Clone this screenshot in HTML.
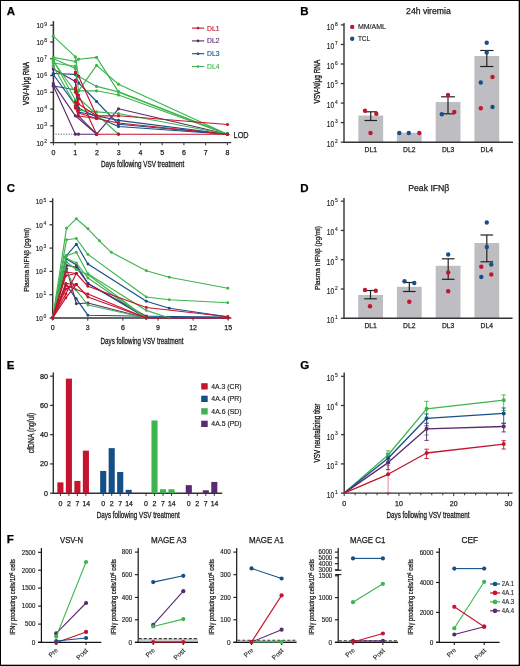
<!DOCTYPE html>
<html><head><meta charset="utf-8"><style>
html,body{margin:0;padding:0;background:#fff;}
svg{display:block;font-family:"Liberation Sans", sans-serif;will-change:transform;}
</style></head><body>
<svg width="520" height="666" viewBox="0 0 520 666">
<rect x="0" y="0" width="520" height="666" fill="#fff"/>
<text x="6.8" y="14.7" font-size="11.5" fill="#000" stroke="#000" stroke-width="0.25" font-weight="bold">A</text>
<line x1="53.4" y1="21.1" x2="53.4" y2="142.6" stroke="#333333" stroke-width="1.5" />
<line x1="52.9" y1="142.6" x2="231.2" y2="142.6" stroke="#333333" stroke-width="1.4" />
<line x1="50.2" y1="142.6" x2="53.4" y2="142.6" stroke="#333333" stroke-width="1.25" />
<text x="47" y="142.9" font-size="5.4" text-anchor="end" textLength="2.8" lengthAdjust="spacingAndGlyphs" fill="#1a1a1a" stroke="#1a1a1a" stroke-width="0.12">2</text>
<text x="43.4" y="145.5" font-size="7.6" text-anchor="end" textLength="7" lengthAdjust="spacingAndGlyphs" fill="#1a1a1a" stroke="#1a1a1a" stroke-width="0.18">10</text>
<line x1="50.2" y1="125.83" x2="53.4" y2="125.83" stroke="#333333" stroke-width="1.25" />
<text x="47" y="126.13" font-size="5.4" text-anchor="end" textLength="2.8" lengthAdjust="spacingAndGlyphs" fill="#1a1a1a" stroke="#1a1a1a" stroke-width="0.12">3</text>
<text x="43.4" y="128.73" font-size="7.6" text-anchor="end" textLength="7" lengthAdjust="spacingAndGlyphs" fill="#1a1a1a" stroke="#1a1a1a" stroke-width="0.18">10</text>
<line x1="50.2" y1="109.06" x2="53.4" y2="109.06" stroke="#333333" stroke-width="1.25" />
<text x="47" y="109.36" font-size="5.4" text-anchor="end" textLength="2.8" lengthAdjust="spacingAndGlyphs" fill="#1a1a1a" stroke="#1a1a1a" stroke-width="0.12">4</text>
<text x="43.4" y="111.96" font-size="7.6" text-anchor="end" textLength="7" lengthAdjust="spacingAndGlyphs" fill="#1a1a1a" stroke="#1a1a1a" stroke-width="0.18">10</text>
<line x1="50.2" y1="92.29" x2="53.4" y2="92.29" stroke="#333333" stroke-width="1.25" />
<text x="47" y="92.59" font-size="5.4" text-anchor="end" textLength="2.8" lengthAdjust="spacingAndGlyphs" fill="#1a1a1a" stroke="#1a1a1a" stroke-width="0.12">5</text>
<text x="43.4" y="95.19" font-size="7.6" text-anchor="end" textLength="7" lengthAdjust="spacingAndGlyphs" fill="#1a1a1a" stroke="#1a1a1a" stroke-width="0.18">10</text>
<line x1="50.2" y1="75.52" x2="53.4" y2="75.52" stroke="#333333" stroke-width="1.25" />
<text x="47" y="75.82" font-size="5.4" text-anchor="end" textLength="2.8" lengthAdjust="spacingAndGlyphs" fill="#1a1a1a" stroke="#1a1a1a" stroke-width="0.12">6</text>
<text x="43.4" y="78.42" font-size="7.6" text-anchor="end" textLength="7" lengthAdjust="spacingAndGlyphs" fill="#1a1a1a" stroke="#1a1a1a" stroke-width="0.18">10</text>
<line x1="50.2" y1="58.75" x2="53.4" y2="58.75" stroke="#333333" stroke-width="1.25" />
<text x="47" y="59.05" font-size="5.4" text-anchor="end" textLength="2.8" lengthAdjust="spacingAndGlyphs" fill="#1a1a1a" stroke="#1a1a1a" stroke-width="0.12">7</text>
<text x="43.4" y="61.65" font-size="7.6" text-anchor="end" textLength="7" lengthAdjust="spacingAndGlyphs" fill="#1a1a1a" stroke="#1a1a1a" stroke-width="0.18">10</text>
<line x1="50.2" y1="41.98" x2="53.4" y2="41.98" stroke="#333333" stroke-width="1.25" />
<text x="47" y="42.28" font-size="5.4" text-anchor="end" textLength="2.8" lengthAdjust="spacingAndGlyphs" fill="#1a1a1a" stroke="#1a1a1a" stroke-width="0.12">8</text>
<text x="43.4" y="44.88" font-size="7.6" text-anchor="end" textLength="7" lengthAdjust="spacingAndGlyphs" fill="#1a1a1a" stroke="#1a1a1a" stroke-width="0.18">10</text>
<line x1="50.2" y1="25.21" x2="53.4" y2="25.21" stroke="#333333" stroke-width="1.25" />
<text x="47" y="25.51" font-size="5.4" text-anchor="end" textLength="2.8" lengthAdjust="spacingAndGlyphs" fill="#1a1a1a" stroke="#1a1a1a" stroke-width="0.12">9</text>
<text x="43.4" y="28.11" font-size="7.6" text-anchor="end" textLength="7" lengthAdjust="spacingAndGlyphs" fill="#1a1a1a" stroke="#1a1a1a" stroke-width="0.18">10</text>
<line x1="53.4" y1="142.6" x2="53.4" y2="145.3" stroke="#333333" stroke-width="1" />
<text x="53.4" y="154.7" font-size="7.2" text-anchor="middle" textLength="3.9" lengthAdjust="spacingAndGlyphs" fill="#1a1a1a" stroke="#1a1a1a" stroke-width="0.25">0</text>
<line x1="75.15" y1="142.6" x2="75.15" y2="145.3" stroke="#333333" stroke-width="1" />
<text x="75.15" y="154.7" font-size="7.2" text-anchor="middle" textLength="3.9" lengthAdjust="spacingAndGlyphs" fill="#1a1a1a" stroke="#1a1a1a" stroke-width="0.25">1</text>
<line x1="96.9" y1="142.6" x2="96.9" y2="145.3" stroke="#333333" stroke-width="1" />
<text x="96.9" y="154.7" font-size="7.2" text-anchor="middle" textLength="3.9" lengthAdjust="spacingAndGlyphs" fill="#1a1a1a" stroke="#1a1a1a" stroke-width="0.25">2</text>
<line x1="118.65" y1="142.6" x2="118.65" y2="145.3" stroke="#333333" stroke-width="1" />
<text x="118.65" y="154.7" font-size="7.2" text-anchor="middle" textLength="3.9" lengthAdjust="spacingAndGlyphs" fill="#1a1a1a" stroke="#1a1a1a" stroke-width="0.25">3</text>
<line x1="140.4" y1="142.6" x2="140.4" y2="145.3" stroke="#333333" stroke-width="1" />
<text x="140.4" y="154.7" font-size="7.2" text-anchor="middle" textLength="3.9" lengthAdjust="spacingAndGlyphs" fill="#1a1a1a" stroke="#1a1a1a" stroke-width="0.25">4</text>
<line x1="162.15" y1="142.6" x2="162.15" y2="145.3" stroke="#333333" stroke-width="1" />
<text x="162.15" y="154.7" font-size="7.2" text-anchor="middle" textLength="3.9" lengthAdjust="spacingAndGlyphs" fill="#1a1a1a" stroke="#1a1a1a" stroke-width="0.25">5</text>
<line x1="183.9" y1="142.6" x2="183.9" y2="145.3" stroke="#333333" stroke-width="1" />
<text x="183.9" y="154.7" font-size="7.2" text-anchor="middle" textLength="3.9" lengthAdjust="spacingAndGlyphs" fill="#1a1a1a" stroke="#1a1a1a" stroke-width="0.25">6</text>
<line x1="205.65" y1="142.6" x2="205.65" y2="145.3" stroke="#333333" stroke-width="1" />
<text x="205.65" y="154.7" font-size="7.2" text-anchor="middle" textLength="3.9" lengthAdjust="spacingAndGlyphs" fill="#1a1a1a" stroke="#1a1a1a" stroke-width="0.25">7</text>
<line x1="227.4" y1="142.6" x2="227.4" y2="145.3" stroke="#333333" stroke-width="1" />
<text x="227.4" y="154.7" font-size="7.2" text-anchor="middle" textLength="3.9" lengthAdjust="spacingAndGlyphs" fill="#1a1a1a" stroke="#1a1a1a" stroke-width="0.25">8</text>
<text x="100.9" y="167.4" font-size="9" textLength="83.3" lengthAdjust="spacingAndGlyphs" fill="#1a1a1a" stroke="#1a1a1a" stroke-width="0.3">Days following VSV treatment</text>
<text x="29.2" y="83.4" font-size="8.6" text-anchor="middle" textLength="43" lengthAdjust="spacingAndGlyphs" fill="#1a1a1a" stroke="#1a1a1a" stroke-width="0.35" transform="rotate(-90 29.2 83.4)">VSV-N/μg RNA</text>
<line x1="55.5" y1="134.2" x2="76" y2="134.2" stroke="#333" stroke-width="0.8" stroke-dasharray="1.2,1.4"/>
<text x="233.6" y="138.2" font-size="8.6" textLength="15" lengthAdjust="spacingAndGlyphs" fill="#1a1a1a" stroke="#1a1a1a" stroke-width="0.25">LOD</text>
<line x1="192" y1="28.1" x2="204.2" y2="28.1" stroke="#c4142e" stroke-width="1.1" />
<circle cx="198" cy="28.1" r="1.3" fill="#c4142e"/>
<text x="207" y="30.6" font-size="7.4" textLength="12.4" lengthAdjust="spacingAndGlyphs" fill="#c4142e" stroke="#c4142e" stroke-width="0.15">DL1</text>
<line x1="192" y1="40.9" x2="204.2" y2="40.9" stroke="#5a2a70" stroke-width="1.1" />
<circle cx="198" cy="40.9" r="1.3" fill="#5a2a70"/>
<text x="207" y="43.4" font-size="7.4" textLength="12.4" lengthAdjust="spacingAndGlyphs" fill="#5a2a70" stroke="#5a2a70" stroke-width="0.15">DL2</text>
<line x1="192" y1="53.7" x2="204.2" y2="53.7" stroke="#164f86" stroke-width="1.1" />
<circle cx="198" cy="53.7" r="1.3" fill="#164f86"/>
<text x="207" y="56.2" font-size="7.4" textLength="12.4" lengthAdjust="spacingAndGlyphs" fill="#164f86" stroke="#164f86" stroke-width="0.15">DL3</text>
<line x1="192" y1="66.5" x2="204.2" y2="66.5" stroke="#3db54e" stroke-width="1.1" />
<circle cx="198" cy="66.5" r="1.3" fill="#3db54e"/>
<text x="207" y="69" font-size="7.4" textLength="12.4" lengthAdjust="spacingAndGlyphs" fill="#3db54e" stroke="#3db54e" stroke-width="0.15">DL4</text>
<polyline points="53.3,73.5 75.4,74.4 78.8,83.1 96.6,101.5 118.5,124.2 227.5,134.2" fill="none" stroke="#164f86" stroke-width="1.15" stroke-linejoin="round" />
<circle cx="53.3" cy="73.5" r="1.6" fill="#164f86"/>
<circle cx="75.4" cy="74.4" r="1.6" fill="#164f86"/>
<circle cx="78.8" cy="83.1" r="1.6" fill="#164f86"/>
<circle cx="96.6" cy="101.5" r="1.6" fill="#164f86"/>
<circle cx="118.5" cy="124.2" r="1.6" fill="#164f86"/>
<circle cx="227.5" cy="134.2" r="1.6" fill="#164f86"/>
<polyline points="53.3,74.5 75.4,105 78.5,112 118.5,120.4 227.5,134.2" fill="none" stroke="#164f86" stroke-width="1.15" stroke-linejoin="round" />
<circle cx="53.3" cy="74.5" r="1.6" fill="#164f86"/>
<circle cx="75.4" cy="105" r="1.6" fill="#164f86"/>
<circle cx="78.5" cy="112" r="1.6" fill="#164f86"/>
<circle cx="118.5" cy="120.4" r="1.6" fill="#164f86"/>
<circle cx="227.5" cy="134.2" r="1.6" fill="#164f86"/>
<polyline points="53.3,86 75.4,89.8 78.5,108 96.6,117 118.5,126.5 227.5,134.2" fill="none" stroke="#164f86" stroke-width="1.15" stroke-linejoin="round" />
<circle cx="53.3" cy="86" r="1.6" fill="#164f86"/>
<circle cx="75.4" cy="89.8" r="1.6" fill="#164f86"/>
<circle cx="78.5" cy="108" r="1.6" fill="#164f86"/>
<circle cx="96.6" cy="117" r="1.6" fill="#164f86"/>
<circle cx="118.5" cy="126.5" r="1.6" fill="#164f86"/>
<circle cx="227.5" cy="134.2" r="1.6" fill="#164f86"/>
<polyline points="53.3,83.6 75.4,115.8 96.6,134.2 118.5,108.8 227.5,134.2" fill="none" stroke="#5a2a70" stroke-width="1.15" stroke-linejoin="round" />
<circle cx="53.3" cy="83.6" r="1.6" fill="#5a2a70"/>
<circle cx="75.4" cy="115.8" r="1.6" fill="#5a2a70"/>
<circle cx="96.6" cy="134.2" r="1.6" fill="#5a2a70"/>
<circle cx="118.5" cy="108.8" r="1.6" fill="#5a2a70"/>
<circle cx="227.5" cy="134.2" r="1.6" fill="#5a2a70"/>
<polyline points="53.3,85.8 75.4,134.2 78.5,134.2 96.6,134.2" fill="none" stroke="#5a2a70" stroke-width="1.15" stroke-linejoin="round" />
<circle cx="53.3" cy="85.8" r="1.6" fill="#5a2a70"/>
<circle cx="75.4" cy="134.2" r="1.6" fill="#5a2a70"/>
<circle cx="78.5" cy="134.2" r="1.6" fill="#5a2a70"/>
<circle cx="96.6" cy="134.2" r="1.6" fill="#5a2a70"/>
<polyline points="53.3,69.1 75.4,81.6 78.5,115.8 96.6,134.2" fill="none" stroke="#5a2a70" stroke-width="1.15" stroke-linejoin="round" />
<circle cx="53.3" cy="69.1" r="1.6" fill="#5a2a70"/>
<circle cx="75.4" cy="81.6" r="1.6" fill="#5a2a70"/>
<circle cx="78.5" cy="115.8" r="1.6" fill="#5a2a70"/>
<circle cx="96.6" cy="134.2" r="1.6" fill="#5a2a70"/>
<polyline points="53.3,36.2 75.4,56.9 78.5,76.3 96.6,86.4 118.5,91.9 227.5,134.2" fill="none" stroke="#3db54e" stroke-width="1.15" stroke-linejoin="round" />
<circle cx="53.3" cy="36.2" r="1.6" fill="#3db54e"/>
<circle cx="75.4" cy="56.9" r="1.6" fill="#3db54e"/>
<circle cx="78.5" cy="76.3" r="1.6" fill="#3db54e"/>
<circle cx="96.6" cy="86.4" r="1.6" fill="#3db54e"/>
<circle cx="118.5" cy="91.9" r="1.6" fill="#3db54e"/>
<circle cx="227.5" cy="134.2" r="1.6" fill="#3db54e"/>
<polyline points="53.3,57.4 75.4,61.5 78.5,59.2 96.6,57.4 118.5,91.9 227.5,134.2" fill="none" stroke="#3db54e" stroke-width="1.15" stroke-linejoin="round" />
<circle cx="53.3" cy="57.4" r="1.6" fill="#3db54e"/>
<circle cx="75.4" cy="61.5" r="1.6" fill="#3db54e"/>
<circle cx="78.5" cy="59.2" r="1.6" fill="#3db54e"/>
<circle cx="96.6" cy="57.4" r="1.6" fill="#3db54e"/>
<circle cx="118.5" cy="91.9" r="1.6" fill="#3db54e"/>
<circle cx="227.5" cy="134.2" r="1.6" fill="#3db54e"/>
<polyline points="53.3,63 75.4,66.2 78.5,90.8 96.6,65.4 118.5,84.2 227.5,134.2" fill="none" stroke="#3db54e" stroke-width="1.15" stroke-linejoin="round" />
<circle cx="53.3" cy="63" r="1.6" fill="#3db54e"/>
<circle cx="75.4" cy="66.2" r="1.6" fill="#3db54e"/>
<circle cx="78.5" cy="90.8" r="1.6" fill="#3db54e"/>
<circle cx="96.6" cy="65.4" r="1.6" fill="#3db54e"/>
<circle cx="118.5" cy="84.2" r="1.6" fill="#3db54e"/>
<circle cx="227.5" cy="134.2" r="1.6" fill="#3db54e"/>
<polyline points="53.3,61.5 75.4,92 78.5,90.8 96.6,90.8 118.5,95 227.5,134.2" fill="none" stroke="#3db54e" stroke-width="1.15" stroke-linejoin="round" />
<circle cx="53.3" cy="61.5" r="1.6" fill="#3db54e"/>
<circle cx="75.4" cy="92" r="1.6" fill="#3db54e"/>
<circle cx="78.5" cy="90.8" r="1.6" fill="#3db54e"/>
<circle cx="96.6" cy="90.8" r="1.6" fill="#3db54e"/>
<circle cx="118.5" cy="95" r="1.6" fill="#3db54e"/>
<circle cx="227.5" cy="134.2" r="1.6" fill="#3db54e"/>
<polyline points="53.3,66.2 75.4,105 78.5,110.4 96.6,111.9 118.5,113.5 227.5,134.2" fill="none" stroke="#3db54e" stroke-width="1.15" stroke-linejoin="round" />
<circle cx="53.3" cy="66.2" r="1.6" fill="#3db54e"/>
<circle cx="75.4" cy="105" r="1.6" fill="#3db54e"/>
<circle cx="78.5" cy="110.4" r="1.6" fill="#3db54e"/>
<circle cx="96.6" cy="111.9" r="1.6" fill="#3db54e"/>
<circle cx="118.5" cy="113.5" r="1.6" fill="#3db54e"/>
<circle cx="227.5" cy="134.2" r="1.6" fill="#3db54e"/>
<polyline points="53.3,60 75.4,100 78.5,98 118.5,134.2" fill="none" stroke="#3db54e" stroke-width="1.15" stroke-linejoin="round" />
<circle cx="53.3" cy="60" r="1.6" fill="#3db54e"/>
<circle cx="75.4" cy="100" r="1.6" fill="#3db54e"/>
<circle cx="78.5" cy="98" r="1.6" fill="#3db54e"/>
<circle cx="118.5" cy="134.2" r="1.6" fill="#3db54e"/>
<polyline points="53.3,58.5 75.4,68.5" fill="none" stroke="#3db54e" stroke-width="1.15" stroke-linejoin="round" />
<circle cx="53.3" cy="58.5" r="1.6" fill="#3db54e"/>
<circle cx="75.4" cy="68.5" r="1.6" fill="#3db54e"/>
<polyline points="75.4,72 78.5,76 96.6,115.8 118.5,115.8 227.5,124.5" fill="none" stroke="#c4142e" stroke-width="1.15" stroke-linejoin="round" />
<circle cx="75.4" cy="72" r="1.6" fill="#c4142e"/>
<circle cx="78.5" cy="76" r="1.6" fill="#c4142e"/>
<circle cx="96.6" cy="115.8" r="1.6" fill="#c4142e"/>
<circle cx="118.5" cy="115.8" r="1.6" fill="#c4142e"/>
<circle cx="227.5" cy="124.5" r="1.6" fill="#c4142e"/>
<polyline points="75.4,88 78.5,95 96.6,134.2 118.5,134.2 227.5,134.2" fill="none" stroke="#c4142e" stroke-width="1.15" stroke-linejoin="round" />
<circle cx="75.4" cy="88" r="1.6" fill="#c4142e"/>
<circle cx="78.5" cy="95" r="1.6" fill="#c4142e"/>
<circle cx="96.6" cy="134.2" r="1.6" fill="#c4142e"/>
<circle cx="118.5" cy="134.2" r="1.6" fill="#c4142e"/>
<circle cx="227.5" cy="134.2" r="1.6" fill="#c4142e"/>
<polyline points="75.4,102 78.5,113 96.6,118.5 118.5,123 227.5,134.2" fill="none" stroke="#c4142e" stroke-width="1.15" stroke-linejoin="round" />
<circle cx="75.4" cy="102" r="1.6" fill="#c4142e"/>
<circle cx="78.5" cy="113" r="1.6" fill="#c4142e"/>
<circle cx="96.6" cy="118.5" r="1.6" fill="#c4142e"/>
<circle cx="118.5" cy="123" r="1.6" fill="#c4142e"/>
<circle cx="227.5" cy="134.2" r="1.6" fill="#c4142e"/>
<polyline points="75.4,108 78.5,116 96.6,118.5" fill="none" stroke="#c4142e" stroke-width="1.15" stroke-linejoin="round" />
<circle cx="75.4" cy="108" r="1.6" fill="#c4142e"/>
<circle cx="78.5" cy="116" r="1.6" fill="#c4142e"/>
<circle cx="96.6" cy="118.5" r="1.6" fill="#c4142e"/>
<polyline points="75.4,80 78.5,104 96.6,115.8" fill="none" stroke="#c4142e" stroke-width="1.15" stroke-linejoin="round" />
<circle cx="75.4" cy="80" r="1.6" fill="#c4142e"/>
<circle cx="78.5" cy="104" r="1.6" fill="#c4142e"/>
<circle cx="96.6" cy="115.8" r="1.6" fill="#c4142e"/>
<polyline points="75.4,92 78.5,99 75.4,106 78.5,110" fill="none" stroke="#c4142e" stroke-width="1.15" stroke-linejoin="round" />
<circle cx="75.4" cy="92" r="1.6" fill="#c4142e"/>
<circle cx="78.5" cy="99" r="1.6" fill="#c4142e"/>
<circle cx="75.4" cy="106" r="1.6" fill="#c4142e"/>
<circle cx="78.5" cy="110" r="1.6" fill="#c4142e"/>
<text x="300.2" y="15.2" font-size="11.5" fill="#000" stroke="#000" stroke-width="0.25" font-weight="bold">B</text>
<text x="406.1" y="14.3" font-size="8.6" textLength="44.6" lengthAdjust="spacingAndGlyphs" fill="#1a1a1a" stroke="#1a1a1a" stroke-width="0.25">24h viremia</text>
<rect x="358.35" y="115.5" width="24.8" height="26.7" fill="#bebdc2"/>
<rect x="396.9" y="132.7" width="24.8" height="9.5" fill="#bebdc2"/>
<rect x="435.7" y="102" width="24.8" height="40.2" fill="#bebdc2"/>
<rect x="474.4" y="56" width="24.8" height="86.2" fill="#bebdc2"/>
<line x1="344" y1="23" x2="344" y2="142.7" stroke="#333333" stroke-width="1.4" />
<line x1="343.5" y1="142.2" x2="513" y2="142.2" stroke="#333333" stroke-width="1.4" />
<line x1="340.8" y1="142.2" x2="344" y2="142.2" stroke="#333333" stroke-width="1.25" />
<text x="337.6" y="142.8" font-size="5" text-anchor="end" textLength="2.7" lengthAdjust="spacingAndGlyphs" fill="#1a1a1a" stroke="#1a1a1a" stroke-width="0.12">2</text>
<text x="334.2" y="147" font-size="8.3" text-anchor="end" textLength="7.4" lengthAdjust="spacingAndGlyphs" fill="#1a1a1a" stroke="#1a1a1a" stroke-width="0.15">10</text>
<line x1="340.8" y1="122.65" x2="344" y2="122.65" stroke="#333333" stroke-width="1.25" />
<text x="337.6" y="123.25" font-size="5" text-anchor="end" textLength="2.7" lengthAdjust="spacingAndGlyphs" fill="#1a1a1a" stroke="#1a1a1a" stroke-width="0.12">3</text>
<text x="334.2" y="127.45" font-size="8.3" text-anchor="end" textLength="7.4" lengthAdjust="spacingAndGlyphs" fill="#1a1a1a" stroke="#1a1a1a" stroke-width="0.15">10</text>
<line x1="340.8" y1="103.1" x2="344" y2="103.1" stroke="#333333" stroke-width="1.25" />
<text x="337.6" y="103.7" font-size="5" text-anchor="end" textLength="2.7" lengthAdjust="spacingAndGlyphs" fill="#1a1a1a" stroke="#1a1a1a" stroke-width="0.12">4</text>
<text x="334.2" y="107.9" font-size="8.3" text-anchor="end" textLength="7.4" lengthAdjust="spacingAndGlyphs" fill="#1a1a1a" stroke="#1a1a1a" stroke-width="0.15">10</text>
<line x1="340.8" y1="83.55" x2="344" y2="83.55" stroke="#333333" stroke-width="1.25" />
<text x="337.6" y="84.15" font-size="5" text-anchor="end" textLength="2.7" lengthAdjust="spacingAndGlyphs" fill="#1a1a1a" stroke="#1a1a1a" stroke-width="0.12">5</text>
<text x="334.2" y="88.35" font-size="8.3" text-anchor="end" textLength="7.4" lengthAdjust="spacingAndGlyphs" fill="#1a1a1a" stroke="#1a1a1a" stroke-width="0.15">10</text>
<line x1="340.8" y1="64" x2="344" y2="64" stroke="#333333" stroke-width="1.25" />
<text x="337.6" y="64.6" font-size="5" text-anchor="end" textLength="2.7" lengthAdjust="spacingAndGlyphs" fill="#1a1a1a" stroke="#1a1a1a" stroke-width="0.12">6</text>
<text x="334.2" y="68.8" font-size="8.3" text-anchor="end" textLength="7.4" lengthAdjust="spacingAndGlyphs" fill="#1a1a1a" stroke="#1a1a1a" stroke-width="0.15">10</text>
<line x1="340.8" y1="44.45" x2="344" y2="44.45" stroke="#333333" stroke-width="1.25" />
<text x="337.6" y="45.05" font-size="5" text-anchor="end" textLength="2.7" lengthAdjust="spacingAndGlyphs" fill="#1a1a1a" stroke="#1a1a1a" stroke-width="0.12">7</text>
<text x="334.2" y="49.25" font-size="8.3" text-anchor="end" textLength="7.4" lengthAdjust="spacingAndGlyphs" fill="#1a1a1a" stroke="#1a1a1a" stroke-width="0.15">10</text>
<line x1="340.8" y1="24.9" x2="344" y2="24.9" stroke="#333333" stroke-width="1.25" />
<text x="337.6" y="25.5" font-size="5" text-anchor="end" textLength="2.7" lengthAdjust="spacingAndGlyphs" fill="#1a1a1a" stroke="#1a1a1a" stroke-width="0.12">8</text>
<text x="334.2" y="29.7" font-size="8.3" text-anchor="end" textLength="7.4" lengthAdjust="spacingAndGlyphs" fill="#1a1a1a" stroke="#1a1a1a" stroke-width="0.15">10</text>
<text x="370.75" y="151.6" font-size="8" text-anchor="middle" textLength="12.4" lengthAdjust="spacingAndGlyphs" fill="#1a1a1a" stroke="#1a1a1a" stroke-width="0.25">DL1</text>
<text x="409.3" y="151.6" font-size="8" text-anchor="middle" textLength="12.4" lengthAdjust="spacingAndGlyphs" fill="#1a1a1a" stroke="#1a1a1a" stroke-width="0.25">DL2</text>
<text x="448.1" y="151.6" font-size="8" text-anchor="middle" textLength="12.4" lengthAdjust="spacingAndGlyphs" fill="#1a1a1a" stroke="#1a1a1a" stroke-width="0.25">DL3</text>
<text x="486.8" y="151.6" font-size="8" text-anchor="middle" textLength="12.4" lengthAdjust="spacingAndGlyphs" fill="#1a1a1a" stroke="#1a1a1a" stroke-width="0.25">DL4</text>
<text x="319.8" y="81.6" font-size="8.6" text-anchor="middle" textLength="43.6" lengthAdjust="spacingAndGlyphs" fill="#1a1a1a" stroke="#1a1a1a" stroke-width="0.35" transform="rotate(-90 319.8 81.6)">VSV-N/μg RNA</text>
<line x1="370.75" y1="111.8" x2="370.75" y2="120.5" stroke="#222" stroke-width="1.2" />
<line x1="364.45" y1="111.8" x2="377.05" y2="111.8" stroke="#222" stroke-width="1.2" />
<line x1="364.45" y1="120.5" x2="377.05" y2="120.5" stroke="#222" stroke-width="1.2" />
<line x1="448" y1="96.8" x2="448" y2="113.8" stroke="#222" stroke-width="1.2" />
<line x1="441.1" y1="96.8" x2="454.9" y2="96.8" stroke="#222" stroke-width="1.2" />
<line x1="441.1" y1="113.8" x2="454.9" y2="113.8" stroke="#222" stroke-width="1.2" />
<line x1="486.8" y1="50.5" x2="486.8" y2="66.5" stroke="#222" stroke-width="1.2" />
<line x1="480.2" y1="50.5" x2="493.4" y2="50.5" stroke="#222" stroke-width="1.2" />
<line x1="480.2" y1="66.5" x2="493.4" y2="66.5" stroke="#222" stroke-width="1.2" />
<circle cx="365" cy="110.8" r="2.2" fill="#c4142e"/>
<circle cx="376.3" cy="113.8" r="2.2" fill="#c4142e"/>
<circle cx="370.5" cy="133" r="2.2" fill="#c4142e"/>
<circle cx="399.3" cy="133" r="2.2" fill="#164f86"/>
<circle cx="408.8" cy="133" r="2.2" fill="#164f86"/>
<circle cx="419.3" cy="133" r="2.2" fill="#c4142e"/>
<circle cx="448" cy="95" r="2.2" fill="#c4142e"/>
<circle cx="441.8" cy="114.3" r="2.2" fill="#164f86"/>
<circle cx="454.3" cy="112" r="2.2" fill="#c4142e"/>
<circle cx="486.7" cy="42.7" r="2.2" fill="#164f86"/>
<circle cx="486.7" cy="52.5" r="2.2" fill="#164f86"/>
<circle cx="492.5" cy="77" r="2.2" fill="#c4142e"/>
<circle cx="480.8" cy="82.5" r="2.2" fill="#164f86"/>
<circle cx="480.8" cy="108.3" r="2.2" fill="#c4142e"/>
<circle cx="492.5" cy="107" r="2.2" fill="#164f86"/>
<circle cx="352.2" cy="26.9" r="2.2" fill="#c4142e"/>
<circle cx="352.2" cy="38.8" r="2.2" fill="#164f86"/>
<text x="357.9" y="29.4" font-size="7.6" textLength="28" lengthAdjust="spacingAndGlyphs" fill="#1a1a1a" stroke="#1a1a1a" stroke-width="0.15">MM/AML</text>
<text x="357.9" y="40.6" font-size="7.6" textLength="12.2" lengthAdjust="spacingAndGlyphs" fill="#1a1a1a" stroke="#1a1a1a" stroke-width="0.15">TCL</text>
<text x="6.8" y="191.5" font-size="11.5" fill="#000" stroke="#000" stroke-width="0.25" font-weight="bold">C</text>
<line x1="52.7" y1="198.3" x2="52.7" y2="318.5" stroke="#333333" stroke-width="1.4" />
<line x1="52.2" y1="318" x2="231.3" y2="318" stroke="#333333" stroke-width="1.4" />
<line x1="49.5" y1="318" x2="52.7" y2="318" stroke="#333333" stroke-width="1.25" />
<text x="46.4" y="318.3" font-size="5.4" text-anchor="end" textLength="2.8" lengthAdjust="spacingAndGlyphs" fill="#1a1a1a" stroke="#1a1a1a" stroke-width="0.12">0</text>
<text x="42.8" y="320.9" font-size="7.6" text-anchor="end" textLength="7" lengthAdjust="spacingAndGlyphs" fill="#1a1a1a" stroke="#1a1a1a" stroke-width="0.18">10</text>
<line x1="49.5" y1="294.7" x2="52.7" y2="294.7" stroke="#333333" stroke-width="1.25" />
<text x="46.4" y="295" font-size="5.4" text-anchor="end" textLength="2.8" lengthAdjust="spacingAndGlyphs" fill="#1a1a1a" stroke="#1a1a1a" stroke-width="0.12">1</text>
<text x="42.8" y="297.6" font-size="7.6" text-anchor="end" textLength="7" lengthAdjust="spacingAndGlyphs" fill="#1a1a1a" stroke="#1a1a1a" stroke-width="0.18">10</text>
<line x1="49.5" y1="271.4" x2="52.7" y2="271.4" stroke="#333333" stroke-width="1.25" />
<text x="46.4" y="271.7" font-size="5.4" text-anchor="end" textLength="2.8" lengthAdjust="spacingAndGlyphs" fill="#1a1a1a" stroke="#1a1a1a" stroke-width="0.12">2</text>
<text x="42.8" y="274.3" font-size="7.6" text-anchor="end" textLength="7" lengthAdjust="spacingAndGlyphs" fill="#1a1a1a" stroke="#1a1a1a" stroke-width="0.18">10</text>
<line x1="49.5" y1="248.1" x2="52.7" y2="248.1" stroke="#333333" stroke-width="1.25" />
<text x="46.4" y="248.4" font-size="5.4" text-anchor="end" textLength="2.8" lengthAdjust="spacingAndGlyphs" fill="#1a1a1a" stroke="#1a1a1a" stroke-width="0.12">3</text>
<text x="42.8" y="251" font-size="7.6" text-anchor="end" textLength="7" lengthAdjust="spacingAndGlyphs" fill="#1a1a1a" stroke="#1a1a1a" stroke-width="0.18">10</text>
<line x1="49.5" y1="224.8" x2="52.7" y2="224.8" stroke="#333333" stroke-width="1.25" />
<text x="46.4" y="225.1" font-size="5.4" text-anchor="end" textLength="2.8" lengthAdjust="spacingAndGlyphs" fill="#1a1a1a" stroke="#1a1a1a" stroke-width="0.12">4</text>
<text x="42.8" y="227.7" font-size="7.6" text-anchor="end" textLength="7" lengthAdjust="spacingAndGlyphs" fill="#1a1a1a" stroke="#1a1a1a" stroke-width="0.18">10</text>
<line x1="49.5" y1="201.5" x2="52.7" y2="201.5" stroke="#333333" stroke-width="1.25" />
<text x="46.4" y="201.8" font-size="5.4" text-anchor="end" textLength="2.8" lengthAdjust="spacingAndGlyphs" fill="#1a1a1a" stroke="#1a1a1a" stroke-width="0.12">5</text>
<text x="42.8" y="204.4" font-size="7.6" text-anchor="end" textLength="7" lengthAdjust="spacingAndGlyphs" fill="#1a1a1a" stroke="#1a1a1a" stroke-width="0.18">10</text>
<line x1="52.7" y1="318" x2="52.7" y2="320.6" stroke="#333333" stroke-width="1" />
<text x="52.7" y="330.4" font-size="7.2" text-anchor="middle" textLength="3.9" lengthAdjust="spacingAndGlyphs" fill="#1a1a1a" stroke="#1a1a1a" stroke-width="0.25">0</text>
<line x1="87.8" y1="318" x2="87.8" y2="320.6" stroke="#333333" stroke-width="1" />
<text x="87.8" y="330.4" font-size="7.2" text-anchor="middle" textLength="3.9" lengthAdjust="spacingAndGlyphs" fill="#1a1a1a" stroke="#1a1a1a" stroke-width="0.25">3</text>
<line x1="122.9" y1="318" x2="122.9" y2="320.6" stroke="#333333" stroke-width="1" />
<text x="122.9" y="330.4" font-size="7.2" text-anchor="middle" textLength="3.9" lengthAdjust="spacingAndGlyphs" fill="#1a1a1a" stroke="#1a1a1a" stroke-width="0.25">6</text>
<line x1="158" y1="318" x2="158" y2="320.6" stroke="#333333" stroke-width="1" />
<text x="158" y="330.4" font-size="7.2" text-anchor="middle" textLength="3.9" lengthAdjust="spacingAndGlyphs" fill="#1a1a1a" stroke="#1a1a1a" stroke-width="0.25">9</text>
<line x1="193.1" y1="318" x2="193.1" y2="320.6" stroke="#333333" stroke-width="1" />
<text x="193.1" y="330.4" font-size="7.2" text-anchor="middle" textLength="7.8" lengthAdjust="spacingAndGlyphs" fill="#1a1a1a" stroke="#1a1a1a" stroke-width="0.25">12</text>
<line x1="228.2" y1="318" x2="228.2" y2="320.6" stroke="#333333" stroke-width="1" />
<text x="228.2" y="330.4" font-size="7.2" text-anchor="middle" textLength="7.8" lengthAdjust="spacingAndGlyphs" fill="#1a1a1a" stroke="#1a1a1a" stroke-width="0.25">15</text>
<text x="100.6" y="343.6" font-size="9" textLength="82.9" lengthAdjust="spacingAndGlyphs" fill="#1a1a1a" stroke="#1a1a1a" stroke-width="0.3">Days following VSV treatment</text>
<text x="29" y="259.8" font-size="8" text-anchor="middle" textLength="64" lengthAdjust="spacingAndGlyphs" fill="#1a1a1a" stroke="#1a1a1a" stroke-width="0.25" transform="rotate(-90 29 259.8)">Plasma hIFNβ (pg/ml)</text>
<polyline points="52.7,318 66.3,255.8 76.4,244.2 87.9,264 146.3,301.3 169.3,308.3 227.8,316.8" fill="none" stroke="#164f86" stroke-width="1.15" stroke-linejoin="round" />
<circle cx="52.7" cy="318" r="1.45" fill="#164f86"/>
<circle cx="66.3" cy="255.8" r="1.45" fill="#164f86"/>
<circle cx="76.4" cy="244.2" r="1.45" fill="#164f86"/>
<circle cx="87.9" cy="264" r="1.45" fill="#164f86"/>
<circle cx="146.3" cy="301.3" r="1.45" fill="#164f86"/>
<circle cx="169.3" cy="308.3" r="1.45" fill="#164f86"/>
<circle cx="227.8" cy="316.8" r="1.45" fill="#164f86"/>
<polyline points="52.7,318 66.3,258.7 76.4,264.9 88,283.5 146.3,318" fill="none" stroke="#164f86" stroke-width="1.15" stroke-linejoin="round" />
<circle cx="52.7" cy="318" r="1.45" fill="#164f86"/>
<circle cx="66.3" cy="258.7" r="1.45" fill="#164f86"/>
<circle cx="76.4" cy="264.9" r="1.45" fill="#164f86"/>
<circle cx="88" cy="283.5" r="1.45" fill="#164f86"/>
<circle cx="146.3" cy="318" r="1.45" fill="#164f86"/>
<polyline points="52.7,318 65.8,284.4 76.3,298.8 87.9,315.2 146.3,316.2 227.8,317" fill="none" stroke="#164f86" stroke-width="1.15" stroke-linejoin="round" />
<circle cx="52.7" cy="318" r="1.45" fill="#164f86"/>
<circle cx="65.8" cy="284.4" r="1.45" fill="#164f86"/>
<circle cx="76.3" cy="298.8" r="1.45" fill="#164f86"/>
<circle cx="87.9" cy="315.2" r="1.45" fill="#164f86"/>
<circle cx="146.3" cy="316.2" r="1.45" fill="#164f86"/>
<circle cx="227.8" cy="317" r="1.45" fill="#164f86"/>
<polyline points="52.7,318 66.8,265.4 76.4,267.3 87.9,283.5 146.3,316.2" fill="none" stroke="#5a2a70" stroke-width="1.15" stroke-linejoin="round" />
<circle cx="52.7" cy="318" r="1.45" fill="#5a2a70"/>
<circle cx="66.8" cy="265.4" r="1.45" fill="#5a2a70"/>
<circle cx="76.4" cy="267.3" r="1.45" fill="#5a2a70"/>
<circle cx="87.9" cy="283.5" r="1.45" fill="#5a2a70"/>
<circle cx="146.3" cy="316.2" r="1.45" fill="#5a2a70"/>
<polyline points="52.7,318 66.7,268.8 76.3,303.7 87.9,303 146.3,318 227.8,318" fill="none" stroke="#5a2a70" stroke-width="1.15" stroke-linejoin="round" />
<circle cx="52.7" cy="318" r="1.45" fill="#5a2a70"/>
<circle cx="66.7" cy="268.8" r="1.45" fill="#5a2a70"/>
<circle cx="76.3" cy="303.7" r="1.45" fill="#5a2a70"/>
<circle cx="87.9" cy="303" r="1.45" fill="#5a2a70"/>
<circle cx="146.3" cy="318" r="1.45" fill="#5a2a70"/>
<circle cx="227.8" cy="318" r="1.45" fill="#5a2a70"/>
<polyline points="52.7,318 66.5,228.3 76.3,218.7 87.9,228.8 99.4,240.8 111.3,252.3 146.3,270.8 169.3,277.3 227.8,288.3" fill="none" stroke="#3db54e" stroke-width="1.15" stroke-linejoin="round" />
<circle cx="52.7" cy="318" r="1.45" fill="#3db54e"/>
<circle cx="66.5" cy="228.3" r="1.45" fill="#3db54e"/>
<circle cx="76.3" cy="218.7" r="1.45" fill="#3db54e"/>
<circle cx="87.9" cy="228.8" r="1.45" fill="#3db54e"/>
<circle cx="99.4" cy="240.8" r="1.45" fill="#3db54e"/>
<circle cx="111.3" cy="252.3" r="1.45" fill="#3db54e"/>
<circle cx="146.3" cy="270.8" r="1.45" fill="#3db54e"/>
<circle cx="169.3" cy="277.3" r="1.45" fill="#3db54e"/>
<circle cx="227.8" cy="288.3" r="1.45" fill="#3db54e"/>
<polyline points="52.7,318 66.5,239.8 76.3,238.5 87.9,254.4 146.3,297 169.3,299.8 227.8,302.8" fill="none" stroke="#3db54e" stroke-width="1.15" stroke-linejoin="round" />
<circle cx="52.7" cy="318" r="1.45" fill="#3db54e"/>
<circle cx="66.5" cy="239.8" r="1.45" fill="#3db54e"/>
<circle cx="76.3" cy="238.5" r="1.45" fill="#3db54e"/>
<circle cx="87.9" cy="254.4" r="1.45" fill="#3db54e"/>
<circle cx="146.3" cy="297" r="1.45" fill="#3db54e"/>
<circle cx="169.3" cy="299.8" r="1.45" fill="#3db54e"/>
<circle cx="227.8" cy="302.8" r="1.45" fill="#3db54e"/>
<polyline points="52.7,318 66.5,255.8 76.3,252.3 87.9,273.8 146.3,310.4 169.3,318" fill="none" stroke="#3db54e" stroke-width="1.15" stroke-linejoin="round" />
<circle cx="52.7" cy="318" r="1.45" fill="#3db54e"/>
<circle cx="66.5" cy="255.8" r="1.45" fill="#3db54e"/>
<circle cx="76.3" cy="252.3" r="1.45" fill="#3db54e"/>
<circle cx="87.9" cy="273.8" r="1.45" fill="#3db54e"/>
<circle cx="146.3" cy="310.4" r="1.45" fill="#3db54e"/>
<circle cx="169.3" cy="318" r="1.45" fill="#3db54e"/>
<polyline points="52.7,318 64.4,257.2 76.4,263 87.9,278 146.3,318" fill="none" stroke="#3db54e" stroke-width="1.15" stroke-linejoin="round" />
<circle cx="52.7" cy="318" r="1.45" fill="#3db54e"/>
<circle cx="64.4" cy="257.2" r="1.45" fill="#3db54e"/>
<circle cx="76.4" cy="263" r="1.45" fill="#3db54e"/>
<circle cx="87.9" cy="278" r="1.45" fill="#3db54e"/>
<circle cx="146.3" cy="318" r="1.45" fill="#3db54e"/>
<polyline points="52.7,318 66.5,262 76.4,269.7 87.9,274.5 146.3,318" fill="none" stroke="#3db54e" stroke-width="1.15" stroke-linejoin="round" />
<circle cx="52.7" cy="318" r="1.45" fill="#3db54e"/>
<circle cx="66.5" cy="262" r="1.45" fill="#3db54e"/>
<circle cx="76.4" cy="269.7" r="1.45" fill="#3db54e"/>
<circle cx="87.9" cy="274.5" r="1.45" fill="#3db54e"/>
<circle cx="146.3" cy="318" r="1.45" fill="#3db54e"/>
<polyline points="52.7,318 66.5,271 75.7,289.7 87.9,305 146.3,318" fill="none" stroke="#3db54e" stroke-width="1.15" stroke-linejoin="round" />
<circle cx="52.7" cy="318" r="1.45" fill="#3db54e"/>
<circle cx="66.5" cy="271" r="1.45" fill="#3db54e"/>
<circle cx="75.7" cy="289.7" r="1.45" fill="#3db54e"/>
<circle cx="87.9" cy="305" r="1.45" fill="#3db54e"/>
<circle cx="146.3" cy="318" r="1.45" fill="#3db54e"/>
<polyline points="52.7,318 65.8,272 76.3,273.5 87.9,286.3 146.3,307.5 227.8,316.8" fill="none" stroke="#c4142e" stroke-width="1.15" stroke-linejoin="round" />
<circle cx="52.7" cy="318" r="1.45" fill="#c4142e"/>
<circle cx="65.8" cy="272" r="1.45" fill="#c4142e"/>
<circle cx="76.3" cy="273.5" r="1.45" fill="#c4142e"/>
<circle cx="87.9" cy="286.3" r="1.45" fill="#c4142e"/>
<circle cx="146.3" cy="307.5" r="1.45" fill="#c4142e"/>
<circle cx="227.8" cy="316.8" r="1.45" fill="#c4142e"/>
<polyline points="52.7,318 65.8,283.5 76.3,284.4 87.9,297 146.3,318 227.8,318" fill="none" stroke="#c4142e" stroke-width="1.15" stroke-linejoin="round" />
<circle cx="52.7" cy="318" r="1.45" fill="#c4142e"/>
<circle cx="65.8" cy="283.5" r="1.45" fill="#c4142e"/>
<circle cx="76.3" cy="284.4" r="1.45" fill="#c4142e"/>
<circle cx="87.9" cy="297" r="1.45" fill="#c4142e"/>
<circle cx="146.3" cy="318" r="1.45" fill="#c4142e"/>
<circle cx="227.8" cy="318" r="1.45" fill="#c4142e"/>
<polyline points="52.7,318 65.8,289.2 76.3,284.4" fill="none" stroke="#c4142e" stroke-width="1.15" stroke-linejoin="round" />
<circle cx="52.7" cy="318" r="1.45" fill="#c4142e"/>
<circle cx="65.8" cy="289.2" r="1.45" fill="#c4142e"/>
<circle cx="76.3" cy="284.4" r="1.45" fill="#c4142e"/>
<polyline points="52.7,318 65.8,294 76.3,273.5" fill="none" stroke="#c4142e" stroke-width="1.15" stroke-linejoin="round" />
<circle cx="52.7" cy="318" r="1.45" fill="#c4142e"/>
<circle cx="65.8" cy="294" r="1.45" fill="#c4142e"/>
<circle cx="76.3" cy="273.5" r="1.45" fill="#c4142e"/>
<polyline points="52.7,318 65.8,297.9 76.3,284.4" fill="none" stroke="#c4142e" stroke-width="1.15" stroke-linejoin="round" />
<circle cx="52.7" cy="318" r="1.45" fill="#c4142e"/>
<circle cx="65.8" cy="297.9" r="1.45" fill="#c4142e"/>
<circle cx="76.3" cy="284.4" r="1.45" fill="#c4142e"/>
<polyline points="52.7,318 65.8,275.8 76.3,273.5" fill="none" stroke="#c4142e" stroke-width="1.15" stroke-linejoin="round" />
<circle cx="52.7" cy="318" r="1.45" fill="#c4142e"/>
<circle cx="65.8" cy="275.8" r="1.45" fill="#c4142e"/>
<circle cx="76.3" cy="273.5" r="1.45" fill="#c4142e"/>
<polyline points="52.7,318 66.2,285.5 87.9,294 146.3,318" fill="none" stroke="#c4142e" stroke-width="1.15" stroke-linejoin="round" />
<circle cx="52.7" cy="318" r="1.45" fill="#c4142e"/>
<circle cx="66.2" cy="285.5" r="1.45" fill="#c4142e"/>
<circle cx="87.9" cy="294" r="1.45" fill="#c4142e"/>
<circle cx="146.3" cy="318" r="1.45" fill="#c4142e"/>
<text x="300.2" y="191.5" font-size="11.5" fill="#000" stroke="#000" stroke-width="0.25" font-weight="bold">D</text>
<text x="408.3" y="190.5" font-size="8.6" textLength="41" lengthAdjust="spacingAndGlyphs" fill="#1a1a1a" stroke="#1a1a1a" stroke-width="0.25">Peak IFNβ</text>
<rect x="358.2" y="295" width="24.8" height="23.3" fill="#bebdc2"/>
<rect x="396.9" y="286.8" width="24.8" height="31.5" fill="#bebdc2"/>
<rect x="435.7" y="265.8" width="24.8" height="52.5" fill="#bebdc2"/>
<rect x="474.4" y="243" width="24.8" height="75.3" fill="#bebdc2"/>
<line x1="344" y1="198" x2="344" y2="318.8" stroke="#333333" stroke-width="1.4" />
<line x1="343.5" y1="318.3" x2="512.6" y2="318.3" stroke="#333333" stroke-width="1.4" />
<line x1="340.8" y1="318.3" x2="344" y2="318.3" stroke="#333333" stroke-width="1.25" />
<text x="337.6" y="318.9" font-size="5" text-anchor="end" textLength="2.7" lengthAdjust="spacingAndGlyphs" fill="#1a1a1a" stroke="#1a1a1a" stroke-width="0.12">1</text>
<text x="334.2" y="323.1" font-size="8.3" text-anchor="end" textLength="7.4" lengthAdjust="spacingAndGlyphs" fill="#1a1a1a" stroke="#1a1a1a" stroke-width="0.15">10</text>
<line x1="340.8" y1="289.02" x2="344" y2="289.02" stroke="#333333" stroke-width="1.25" />
<text x="337.6" y="289.62" font-size="5" text-anchor="end" textLength="2.7" lengthAdjust="spacingAndGlyphs" fill="#1a1a1a" stroke="#1a1a1a" stroke-width="0.12">2</text>
<text x="334.2" y="293.82" font-size="8.3" text-anchor="end" textLength="7.4" lengthAdjust="spacingAndGlyphs" fill="#1a1a1a" stroke="#1a1a1a" stroke-width="0.15">10</text>
<line x1="340.8" y1="259.74" x2="344" y2="259.74" stroke="#333333" stroke-width="1.25" />
<text x="337.6" y="260.34" font-size="5" text-anchor="end" textLength="2.7" lengthAdjust="spacingAndGlyphs" fill="#1a1a1a" stroke="#1a1a1a" stroke-width="0.12">3</text>
<text x="334.2" y="264.54" font-size="8.3" text-anchor="end" textLength="7.4" lengthAdjust="spacingAndGlyphs" fill="#1a1a1a" stroke="#1a1a1a" stroke-width="0.15">10</text>
<line x1="340.8" y1="230.46" x2="344" y2="230.46" stroke="#333333" stroke-width="1.25" />
<text x="337.6" y="231.06" font-size="5" text-anchor="end" textLength="2.7" lengthAdjust="spacingAndGlyphs" fill="#1a1a1a" stroke="#1a1a1a" stroke-width="0.12">4</text>
<text x="334.2" y="235.26" font-size="8.3" text-anchor="end" textLength="7.4" lengthAdjust="spacingAndGlyphs" fill="#1a1a1a" stroke="#1a1a1a" stroke-width="0.15">10</text>
<line x1="340.8" y1="201.18" x2="344" y2="201.18" stroke="#333333" stroke-width="1.25" />
<text x="337.6" y="201.78" font-size="5" text-anchor="end" textLength="2.7" lengthAdjust="spacingAndGlyphs" fill="#1a1a1a" stroke="#1a1a1a" stroke-width="0.12">5</text>
<text x="334.2" y="205.98" font-size="8.3" text-anchor="end" textLength="7.4" lengthAdjust="spacingAndGlyphs" fill="#1a1a1a" stroke="#1a1a1a" stroke-width="0.15">10</text>
<text x="370.6" y="327.8" font-size="8" text-anchor="middle" textLength="12.4" lengthAdjust="spacingAndGlyphs" fill="#1a1a1a" stroke="#1a1a1a" stroke-width="0.25">DL1</text>
<text x="409.3" y="327.8" font-size="8" text-anchor="middle" textLength="12.4" lengthAdjust="spacingAndGlyphs" fill="#1a1a1a" stroke="#1a1a1a" stroke-width="0.25">DL2</text>
<text x="448.1" y="327.8" font-size="8" text-anchor="middle" textLength="12.4" lengthAdjust="spacingAndGlyphs" fill="#1a1a1a" stroke="#1a1a1a" stroke-width="0.25">DL3</text>
<text x="486.8" y="327.8" font-size="8" text-anchor="middle" textLength="12.4" lengthAdjust="spacingAndGlyphs" fill="#1a1a1a" stroke="#1a1a1a" stroke-width="0.25">DL4</text>
<text x="320" y="258" font-size="8" text-anchor="middle" textLength="64" lengthAdjust="spacingAndGlyphs" fill="#1a1a1a" stroke="#1a1a1a" stroke-width="0.25" transform="rotate(-90 320 258)">Plasma hIFNβ (pg/ml)</text>
<line x1="370.5" y1="290.5" x2="370.5" y2="298.8" stroke="#222" stroke-width="1.2" />
<line x1="364.2" y1="290.5" x2="376.8" y2="290.5" stroke="#222" stroke-width="1.2" />
<line x1="364.2" y1="298.8" x2="376.8" y2="298.8" stroke="#222" stroke-width="1.2" />
<line x1="409.3" y1="282.5" x2="409.3" y2="291.5" stroke="#222" stroke-width="1.2" />
<line x1="403" y1="282.5" x2="415.6" y2="282.5" stroke="#222" stroke-width="1.2" />
<line x1="403" y1="291.5" x2="415.6" y2="291.5" stroke="#222" stroke-width="1.2" />
<line x1="448.2" y1="258.8" x2="448.2" y2="279.3" stroke="#222" stroke-width="1.2" />
<line x1="441.9" y1="258.8" x2="454.5" y2="258.8" stroke="#222" stroke-width="1.2" />
<line x1="441.9" y1="279.3" x2="454.5" y2="279.3" stroke="#222" stroke-width="1.2" />
<line x1="486.8" y1="235" x2="486.8" y2="261.8" stroke="#222" stroke-width="1.2" />
<line x1="480.5" y1="235" x2="493.1" y2="235" stroke="#222" stroke-width="1.2" />
<line x1="480.5" y1="261.8" x2="493.1" y2="261.8" stroke="#222" stroke-width="1.2" />
<circle cx="365" cy="290" r="2.2" fill="#c4142e"/>
<circle cx="375.8" cy="290.8" r="2.2" fill="#c4142e"/>
<circle cx="370" cy="306.3" r="2.2" fill="#c4142e"/>
<circle cx="404.5" cy="281.3" r="2.2" fill="#164f86"/>
<circle cx="414.3" cy="283" r="2.2" fill="#164f86"/>
<circle cx="409.3" cy="301.8" r="2.2" fill="#c4142e"/>
<circle cx="448.2" cy="254.5" r="2.2" fill="#164f86"/>
<circle cx="448.2" cy="272.5" r="2.2" fill="#c4142e"/>
<circle cx="448.2" cy="291.3" r="2.2" fill="#c4142e"/>
<circle cx="486.8" cy="222.5" r="2.2" fill="#164f86"/>
<circle cx="486.8" cy="247" r="2.2" fill="#164f86"/>
<circle cx="481.3" cy="266.8" r="2.2" fill="#c4142e"/>
<circle cx="491.3" cy="264.5" r="2.2" fill="#164f86"/>
<circle cx="491.3" cy="274.5" r="2.2" fill="#c4142e"/>
<circle cx="481.3" cy="277" r="2.2" fill="#164f86"/>
<text x="6.8" y="369.2" font-size="11.5" fill="#000" stroke="#000" stroke-width="0.25" font-weight="bold">E</text>
<line x1="53.3" y1="372.5" x2="53.3" y2="493.7" stroke="#333333" stroke-width="1.4" />
<line x1="52.8" y1="493.2" x2="222.2" y2="493.2" stroke="#333333" stroke-width="1.4" />
<line x1="50.1" y1="493.2" x2="53.3" y2="493.2" stroke="#333333" stroke-width="1.25" />
<text x="48" y="495.7" font-size="7.2" text-anchor="end" textLength="3.9" lengthAdjust="spacingAndGlyphs" fill="#1a1a1a" stroke="#1a1a1a" stroke-width="0.25">0</text>
<line x1="50.1" y1="463.94" x2="53.3" y2="463.94" stroke="#333333" stroke-width="1.25" />
<text x="48" y="466.44" font-size="7.2" text-anchor="end" textLength="8" lengthAdjust="spacingAndGlyphs" fill="#1a1a1a" stroke="#1a1a1a" stroke-width="0.25">20</text>
<line x1="50.1" y1="434.68" x2="53.3" y2="434.68" stroke="#333333" stroke-width="1.25" />
<text x="48" y="437.18" font-size="7.2" text-anchor="end" textLength="8" lengthAdjust="spacingAndGlyphs" fill="#1a1a1a" stroke="#1a1a1a" stroke-width="0.25">40</text>
<line x1="50.1" y1="405.42" x2="53.3" y2="405.42" stroke="#333333" stroke-width="1.25" />
<text x="48" y="407.92" font-size="7.2" text-anchor="end" textLength="8" lengthAdjust="spacingAndGlyphs" fill="#1a1a1a" stroke="#1a1a1a" stroke-width="0.25">60</text>
<line x1="50.1" y1="376.16" x2="53.3" y2="376.16" stroke="#333333" stroke-width="1.25" />
<text x="48" y="378.66" font-size="7.2" text-anchor="end" textLength="8" lengthAdjust="spacingAndGlyphs" fill="#1a1a1a" stroke="#1a1a1a" stroke-width="0.25">80</text>
<line x1="60.4" y1="493.2" x2="60.4" y2="495.9" stroke="#333333" stroke-width="1" />
<rect x="57.35" y="482.37" width="6.1" height="10.83" fill="#c4142e"/>
<text x="60.4" y="505.9" font-size="7.2" text-anchor="middle" textLength="3.9" lengthAdjust="spacingAndGlyphs" fill="#1a1a1a" stroke="#1a1a1a" stroke-width="0.25">0</text>
<line x1="68.9" y1="493.2" x2="68.9" y2="495.9" stroke="#333333" stroke-width="1" />
<rect x="65.85" y="378.65" width="6.1" height="114.55" fill="#c4142e"/>
<text x="68.9" y="505.9" font-size="7.2" text-anchor="middle" textLength="3.9" lengthAdjust="spacingAndGlyphs" fill="#1a1a1a" stroke="#1a1a1a" stroke-width="0.25">2</text>
<line x1="77.4" y1="493.2" x2="77.4" y2="495.9" stroke="#333333" stroke-width="1" />
<rect x="74.35" y="480.91" width="6.1" height="12.29" fill="#c4142e"/>
<text x="77.4" y="505.9" font-size="7.2" text-anchor="middle" textLength="3.9" lengthAdjust="spacingAndGlyphs" fill="#1a1a1a" stroke="#1a1a1a" stroke-width="0.25">7</text>
<line x1="85.9" y1="493.2" x2="85.9" y2="495.9" stroke="#333333" stroke-width="1" />
<rect x="82.85" y="450.63" width="6.1" height="42.57" fill="#c4142e"/>
<text x="86.2" y="505.9" font-size="7.2" text-anchor="middle" textLength="7.6" lengthAdjust="spacingAndGlyphs" fill="#1a1a1a" stroke="#1a1a1a" stroke-width="0.25">14</text>
<line x1="103.2" y1="493.2" x2="103.2" y2="495.9" stroke="#333333" stroke-width="1" />
<rect x="100.15" y="470.96" width="6.1" height="22.24" fill="#164f86"/>
<text x="103.2" y="505.9" font-size="7.2" text-anchor="middle" textLength="3.9" lengthAdjust="spacingAndGlyphs" fill="#1a1a1a" stroke="#1a1a1a" stroke-width="0.25">0</text>
<line x1="111.7" y1="493.2" x2="111.7" y2="495.9" stroke="#333333" stroke-width="1" />
<rect x="108.65" y="448.14" width="6.1" height="45.06" fill="#164f86"/>
<text x="111.7" y="505.9" font-size="7.2" text-anchor="middle" textLength="3.9" lengthAdjust="spacingAndGlyphs" fill="#1a1a1a" stroke="#1a1a1a" stroke-width="0.25">2</text>
<line x1="120.2" y1="493.2" x2="120.2" y2="495.9" stroke="#333333" stroke-width="1" />
<rect x="117.15" y="471.99" width="6.1" height="21.21" fill="#164f86"/>
<text x="120.2" y="505.9" font-size="7.2" text-anchor="middle" textLength="3.9" lengthAdjust="spacingAndGlyphs" fill="#1a1a1a" stroke="#1a1a1a" stroke-width="0.25">7</text>
<line x1="128.7" y1="493.2" x2="128.7" y2="495.9" stroke="#333333" stroke-width="1" />
<rect x="125.65" y="489.84" width="6.1" height="3.36" fill="#164f86"/>
<text x="129" y="505.9" font-size="7.2" text-anchor="middle" textLength="7.6" lengthAdjust="spacingAndGlyphs" fill="#1a1a1a" stroke="#1a1a1a" stroke-width="0.25">14</text>
<line x1="146" y1="493.2" x2="146" y2="495.9" stroke="#333333" stroke-width="1" />
<text x="146" y="505.9" font-size="7.2" text-anchor="middle" textLength="3.9" lengthAdjust="spacingAndGlyphs" fill="#1a1a1a" stroke="#1a1a1a" stroke-width="0.25">0</text>
<line x1="154.5" y1="493.2" x2="154.5" y2="495.9" stroke="#333333" stroke-width="1" />
<rect x="151.45" y="420.49" width="6.1" height="72.71" fill="#3db54e"/>
<text x="154.5" y="505.9" font-size="7.2" text-anchor="middle" textLength="3.9" lengthAdjust="spacingAndGlyphs" fill="#1a1a1a" stroke="#1a1a1a" stroke-width="0.25">2</text>
<line x1="163" y1="493.2" x2="163" y2="495.9" stroke="#333333" stroke-width="1" />
<rect x="159.95" y="489.25" width="6.1" height="3.95" fill="#3db54e"/>
<text x="163" y="505.9" font-size="7.2" text-anchor="middle" textLength="3.9" lengthAdjust="spacingAndGlyphs" fill="#1a1a1a" stroke="#1a1a1a" stroke-width="0.25">7</text>
<line x1="171.5" y1="493.2" x2="171.5" y2="495.9" stroke="#333333" stroke-width="1" />
<rect x="168.45" y="489.25" width="6.1" height="3.95" fill="#3db54e"/>
<text x="171.8" y="505.9" font-size="7.2" text-anchor="middle" textLength="7.6" lengthAdjust="spacingAndGlyphs" fill="#1a1a1a" stroke="#1a1a1a" stroke-width="0.25">14</text>
<line x1="188.8" y1="493.2" x2="188.8" y2="495.9" stroke="#333333" stroke-width="1" />
<rect x="185.75" y="485.15" width="6.1" height="8.05" fill="#5a2a70"/>
<text x="188.8" y="505.9" font-size="7.2" text-anchor="middle" textLength="3.9" lengthAdjust="spacingAndGlyphs" fill="#1a1a1a" stroke="#1a1a1a" stroke-width="0.25">0</text>
<line x1="197.3" y1="493.2" x2="197.3" y2="495.9" stroke="#333333" stroke-width="1" />
<text x="197.3" y="505.9" font-size="7.2" text-anchor="middle" textLength="3.9" lengthAdjust="spacingAndGlyphs" fill="#1a1a1a" stroke="#1a1a1a" stroke-width="0.25">2</text>
<line x1="205.8" y1="493.2" x2="205.8" y2="495.9" stroke="#333333" stroke-width="1" />
<rect x="202.75" y="490.27" width="6.1" height="2.93" fill="#5a2a70"/>
<text x="205.8" y="505.9" font-size="7.2" text-anchor="middle" textLength="3.9" lengthAdjust="spacingAndGlyphs" fill="#1a1a1a" stroke="#1a1a1a" stroke-width="0.25">7</text>
<line x1="214.3" y1="493.2" x2="214.3" y2="495.9" stroke="#333333" stroke-width="1" />
<rect x="211.25" y="481.93" width="6.1" height="11.27" fill="#5a2a70"/>
<text x="214.6" y="505.9" font-size="7.2" text-anchor="middle" textLength="7.6" lengthAdjust="spacingAndGlyphs" fill="#1a1a1a" stroke="#1a1a1a" stroke-width="0.25">14</text>
<text x="96.8" y="518.3" font-size="9" textLength="83" lengthAdjust="spacingAndGlyphs" fill="#1a1a1a" stroke="#1a1a1a" stroke-width="0.3">Days following VSV treatment</text>
<text x="33.6" y="433" font-size="8.4" text-anchor="middle" textLength="40.5" lengthAdjust="spacingAndGlyphs" fill="#1a1a1a" stroke="#1a1a1a" stroke-width="0.28" transform="rotate(-90 33.6 433)">cfDNA (ng/ul)</text>
<rect x="201.2" y="383.2" width="6.5" height="6.3" fill="#c4142e"/>
<text x="211.3" y="388.7" font-size="6.9" textLength="30.3" lengthAdjust="spacingAndGlyphs" fill="#1a1a1a" stroke="#1a1a1a" stroke-width="0.15">4A.3 (CR)</text>
<rect x="201.2" y="395.7" width="6.5" height="6.3" fill="#164f86"/>
<text x="211.3" y="401.2" font-size="6.9" textLength="30.3" lengthAdjust="spacingAndGlyphs" fill="#1a1a1a" stroke="#1a1a1a" stroke-width="0.15">4A.4 (PR)</text>
<rect x="201.2" y="408.2" width="6.5" height="6.3" fill="#3db54e"/>
<text x="211.3" y="413.7" font-size="6.9" textLength="30.3" lengthAdjust="spacingAndGlyphs" fill="#1a1a1a" stroke="#1a1a1a" stroke-width="0.15">4A.6 (SD)</text>
<rect x="201.2" y="420.7" width="6.5" height="6.3" fill="#5a2a70"/>
<text x="211.3" y="426.2" font-size="6.9" textLength="30.3" lengthAdjust="spacingAndGlyphs" fill="#1a1a1a" stroke="#1a1a1a" stroke-width="0.15">4A.5 (PD)</text>
<text x="300.2" y="369.2" font-size="11.5" fill="#000" stroke="#000" stroke-width="0.25" font-weight="bold">G</text>
<line x1="344.2" y1="372.5" x2="344.2" y2="493.6" stroke="#333333" stroke-width="1.4" />
<line x1="343.7" y1="493.1" x2="512.6" y2="493.1" stroke="#333333" stroke-width="1.4" />
<line x1="341" y1="493.1" x2="344.2" y2="493.1" stroke="#333333" stroke-width="1.25" />
<text x="337.6" y="493.7" font-size="5" text-anchor="end" textLength="2.7" lengthAdjust="spacingAndGlyphs" fill="#1a1a1a" stroke="#1a1a1a" stroke-width="0.12">1</text>
<text x="334.2" y="497.9" font-size="8.3" text-anchor="end" textLength="7.4" lengthAdjust="spacingAndGlyphs" fill="#1a1a1a" stroke="#1a1a1a" stroke-width="0.15">10</text>
<line x1="341" y1="463.9" x2="344.2" y2="463.9" stroke="#333333" stroke-width="1.25" />
<text x="337.6" y="464.5" font-size="5" text-anchor="end" textLength="2.7" lengthAdjust="spacingAndGlyphs" fill="#1a1a1a" stroke="#1a1a1a" stroke-width="0.12">2</text>
<text x="334.2" y="468.7" font-size="8.3" text-anchor="end" textLength="7.4" lengthAdjust="spacingAndGlyphs" fill="#1a1a1a" stroke="#1a1a1a" stroke-width="0.15">10</text>
<line x1="341" y1="434.7" x2="344.2" y2="434.7" stroke="#333333" stroke-width="1.25" />
<text x="337.6" y="435.3" font-size="5" text-anchor="end" textLength="2.7" lengthAdjust="spacingAndGlyphs" fill="#1a1a1a" stroke="#1a1a1a" stroke-width="0.12">3</text>
<text x="334.2" y="439.5" font-size="8.3" text-anchor="end" textLength="7.4" lengthAdjust="spacingAndGlyphs" fill="#1a1a1a" stroke="#1a1a1a" stroke-width="0.15">10</text>
<line x1="341" y1="405.5" x2="344.2" y2="405.5" stroke="#333333" stroke-width="1.25" />
<text x="337.6" y="406.1" font-size="5" text-anchor="end" textLength="2.7" lengthAdjust="spacingAndGlyphs" fill="#1a1a1a" stroke="#1a1a1a" stroke-width="0.12">4</text>
<text x="334.2" y="410.3" font-size="8.3" text-anchor="end" textLength="7.4" lengthAdjust="spacingAndGlyphs" fill="#1a1a1a" stroke="#1a1a1a" stroke-width="0.15">10</text>
<line x1="341" y1="376.3" x2="344.2" y2="376.3" stroke="#333333" stroke-width="1.25" />
<text x="337.6" y="376.9" font-size="5" text-anchor="end" textLength="2.7" lengthAdjust="spacingAndGlyphs" fill="#1a1a1a" stroke="#1a1a1a" stroke-width="0.12">5</text>
<text x="334.2" y="381.1" font-size="8.3" text-anchor="end" textLength="7.4" lengthAdjust="spacingAndGlyphs" fill="#1a1a1a" stroke="#1a1a1a" stroke-width="0.15">10</text>
<line x1="344.2" y1="493.1" x2="344.2" y2="496.1" stroke="#333333" stroke-width="1" />
<line x1="355.15" y1="493.1" x2="355.15" y2="495.3" stroke="#333333" stroke-width="1" />
<line x1="366.1" y1="493.1" x2="366.1" y2="495.3" stroke="#333333" stroke-width="1" />
<line x1="377.05" y1="493.1" x2="377.05" y2="495.3" stroke="#333333" stroke-width="1" />
<line x1="388" y1="493.1" x2="388" y2="495.3" stroke="#333333" stroke-width="1" />
<line x1="398.95" y1="493.1" x2="398.95" y2="496.1" stroke="#333333" stroke-width="1" />
<line x1="409.9" y1="493.1" x2="409.9" y2="495.3" stroke="#333333" stroke-width="1" />
<line x1="420.85" y1="493.1" x2="420.85" y2="495.3" stroke="#333333" stroke-width="1" />
<line x1="431.8" y1="493.1" x2="431.8" y2="495.3" stroke="#333333" stroke-width="1" />
<line x1="442.75" y1="493.1" x2="442.75" y2="495.3" stroke="#333333" stroke-width="1" />
<line x1="453.7" y1="493.1" x2="453.7" y2="496.1" stroke="#333333" stroke-width="1" />
<line x1="464.65" y1="493.1" x2="464.65" y2="495.3" stroke="#333333" stroke-width="1" />
<line x1="475.6" y1="493.1" x2="475.6" y2="495.3" stroke="#333333" stroke-width="1" />
<line x1="486.55" y1="493.1" x2="486.55" y2="495.3" stroke="#333333" stroke-width="1" />
<line x1="497.5" y1="493.1" x2="497.5" y2="495.3" stroke="#333333" stroke-width="1" />
<line x1="508.45" y1="493.1" x2="508.45" y2="496.1" stroke="#333333" stroke-width="1" />
<text x="344.2" y="505.6" font-size="7.2" text-anchor="middle" textLength="3.9" lengthAdjust="spacingAndGlyphs" fill="#1a1a1a" stroke="#1a1a1a" stroke-width="0.25">0</text>
<text x="398.95" y="505.6" font-size="7.2" text-anchor="middle" textLength="7.8" lengthAdjust="spacingAndGlyphs" fill="#1a1a1a" stroke="#1a1a1a" stroke-width="0.25">10</text>
<text x="453.7" y="505.6" font-size="7.2" text-anchor="middle" textLength="7.8" lengthAdjust="spacingAndGlyphs" fill="#1a1a1a" stroke="#1a1a1a" stroke-width="0.25">20</text>
<text x="508.45" y="505.6" font-size="7.2" text-anchor="middle" textLength="7.8" lengthAdjust="spacingAndGlyphs" fill="#1a1a1a" stroke="#1a1a1a" stroke-width="0.25">30</text>
<text x="386.5" y="518.3" font-size="9" textLength="83" lengthAdjust="spacingAndGlyphs" fill="#1a1a1a" stroke="#1a1a1a" stroke-width="0.3">Days following VSV treatment</text>
<text x="320.2" y="433" font-size="8.8" text-anchor="middle" textLength="58.8" lengthAdjust="spacingAndGlyphs" fill="#1a1a1a" stroke="#1a1a1a" stroke-width="0.35" transform="rotate(-90 320.2 433)">VSV neutralizing titer</text>
<g stroke="#3db54e" stroke-width="0.9"><line x1="388.1" y1="450.8" x2="388.1" y2="459"/><line x1="385.9" y1="450.8" x2="390.3" y2="450.8"/><line x1="385.9" y1="459" x2="390.3" y2="459"/></g>
<g stroke="#3db54e" stroke-width="0.9"><line x1="426.6" y1="401.3" x2="426.6" y2="435"/><line x1="424.4" y1="401.3" x2="428.8" y2="401.3"/><line x1="424.4" y1="435" x2="428.8" y2="435"/></g>
<g stroke="#3db54e" stroke-width="0.9"><line x1="503.7" y1="394.9" x2="503.7" y2="410.5"/><line x1="501.5" y1="394.9" x2="505.9" y2="394.9"/><line x1="501.5" y1="410.5" x2="505.9" y2="410.5"/></g>
<g stroke="#164f86" stroke-width="0.9"><line x1="388.1" y1="453.4" x2="388.1" y2="463"/><line x1="385.9" y1="453.4" x2="390.3" y2="453.4"/><line x1="385.9" y1="463" x2="390.3" y2="463"/></g>
<g stroke="#164f86" stroke-width="0.9"><line x1="426.6" y1="414" x2="426.6" y2="425.8"/><line x1="424.4" y1="414" x2="428.8" y2="414"/><line x1="424.4" y1="425.8" x2="428.8" y2="425.8"/></g>
<g stroke="#164f86" stroke-width="0.9"><line x1="503.7" y1="408" x2="503.7" y2="423.1"/><line x1="501.5" y1="408" x2="505.9" y2="408"/><line x1="501.5" y1="423.1" x2="505.9" y2="423.1"/></g>
<g stroke="#5a2a70" stroke-width="0.9"><line x1="388.1" y1="456" x2="388.1" y2="469.7"/><line x1="385.9" y1="456" x2="390.3" y2="456"/><line x1="385.9" y1="469.7" x2="390.3" y2="469.7"/></g>
<g stroke="#5a2a70" stroke-width="0.9"><line x1="426.6" y1="423.3" x2="426.6" y2="440.4"/><line x1="424.4" y1="423.3" x2="428.8" y2="423.3"/><line x1="424.4" y1="440.4" x2="428.8" y2="440.4"/></g>
<g stroke="#5a2a70" stroke-width="0.9"><line x1="503.7" y1="423.6" x2="503.7" y2="431.9"/><line x1="501.5" y1="423.6" x2="505.9" y2="423.6"/><line x1="501.5" y1="431.9" x2="505.9" y2="431.9"/></g>
<g stroke="#c4142e" stroke-width="0.9" stroke-opacity="0.55"><line x1="388.1" y1="465.4" x2="388.1" y2="493"/><line x1="385.9" y1="465.4" x2="390.3" y2="465.4"/><line x1="385.9" y1="493" x2="390.3" y2="493"/></g>
<g stroke="#c4142e" stroke-width="0.9"><line x1="426.6" y1="449.2" x2="426.6" y2="458.5"/><line x1="424.4" y1="449.2" x2="428.8" y2="449.2"/><line x1="424.4" y1="458.5" x2="428.8" y2="458.5"/></g>
<g stroke="#c4142e" stroke-width="0.9"><line x1="503.7" y1="440.7" x2="503.7" y2="449"/><line x1="501.5" y1="440.7" x2="505.9" y2="440.7"/><line x1="501.5" y1="449" x2="505.9" y2="449"/></g>
<polyline points="344.2,493.1 388.1,455 426.6,408.8 503.7,400.2" fill="none" stroke="#3db54e" stroke-width="1.3" stroke-linejoin="round" />
<circle cx="388.1" cy="455" r="2" fill="#3db54e"/>
<circle cx="426.6" cy="408.8" r="2" fill="#3db54e"/>
<circle cx="503.7" cy="400.2" r="2" fill="#3db54e"/>
<polyline points="344.2,493.1 388.1,458.2 426.6,418.3 503.7,413.4" fill="none" stroke="#164f86" stroke-width="1.3" stroke-linejoin="round" />
<circle cx="388.1" cy="458.2" r="2" fill="#164f86"/>
<circle cx="426.6" cy="418.3" r="2" fill="#164f86"/>
<circle cx="503.7" cy="413.4" r="2" fill="#164f86"/>
<polyline points="344.2,493.1 388.1,462.6 426.6,428.8 503.7,426.5" fill="none" stroke="#5a2a70" stroke-width="1.3" stroke-linejoin="round" />
<circle cx="388.1" cy="462.6" r="2" fill="#5a2a70"/>
<circle cx="426.6" cy="428.8" r="2" fill="#5a2a70"/>
<circle cx="503.7" cy="426.5" r="2" fill="#5a2a70"/>
<polyline points="344.2,493.1 388.1,474.3 426.6,453 503.7,444.1" fill="none" stroke="#c4142e" stroke-width="1.3" stroke-linejoin="round" />
<circle cx="388.1" cy="474.3" r="2" fill="#c4142e"/>
<circle cx="426.6" cy="453" r="2" fill="#c4142e"/>
<circle cx="503.7" cy="444.1" r="2" fill="#c4142e"/>
<text x="6.8" y="543.2" font-size="11.5" fill="#000" stroke="#000" stroke-width="0.25" font-weight="bold">F</text>
<text x="60" y="542.6" font-size="8.4" textLength="23.2" lengthAdjust="spacingAndGlyphs" fill="#1a1a1a" stroke="#1a1a1a" stroke-width="0.25">VSV-N</text>
<line x1="41.4" y1="548.1" x2="41.4" y2="642.8" stroke="#151515" stroke-width="1.2" />
<line x1="38.1" y1="642.3" x2="101.3" y2="642.3" stroke="#151515" stroke-width="1.2" />
<line x1="38.1" y1="552.3" x2="41.4" y2="552.3" stroke="#151515" stroke-width="1.1" />
<text x="35.4" y="554.6" font-size="6.6" text-anchor="end" textLength="13.6" lengthAdjust="spacingAndGlyphs" fill="#1a1a1a" stroke="#1a1a1a" stroke-width="0.15">2500</text>
<line x1="38.1" y1="570.2" x2="41.4" y2="570.2" stroke="#151515" stroke-width="1.1" />
<text x="35.4" y="572.5" font-size="6.6" text-anchor="end" textLength="13.6" lengthAdjust="spacingAndGlyphs" fill="#1a1a1a" stroke="#1a1a1a" stroke-width="0.15">2000</text>
<line x1="38.1" y1="588.1" x2="41.4" y2="588.1" stroke="#151515" stroke-width="1.1" />
<text x="35.4" y="590.4" font-size="6.6" text-anchor="end" textLength="13.6" lengthAdjust="spacingAndGlyphs" fill="#1a1a1a" stroke="#1a1a1a" stroke-width="0.15">1500</text>
<line x1="38.1" y1="606.1" x2="41.4" y2="606.1" stroke="#151515" stroke-width="1.1" />
<text x="35.4" y="608.4" font-size="6.6" text-anchor="end" textLength="13.6" lengthAdjust="spacingAndGlyphs" fill="#1a1a1a" stroke="#1a1a1a" stroke-width="0.15">1000</text>
<line x1="38.1" y1="624.1" x2="41.4" y2="624.1" stroke="#151515" stroke-width="1.1" />
<text x="35.4" y="626.4" font-size="6.6" text-anchor="end" textLength="10.4" lengthAdjust="spacingAndGlyphs" fill="#1a1a1a" stroke="#1a1a1a" stroke-width="0.15">500</text>
<line x1="38.1" y1="642.3" x2="41.4" y2="642.3" stroke="#151515" stroke-width="1.1" />
<text x="35.4" y="644.6" font-size="6.6" text-anchor="end" textLength="3.6" lengthAdjust="spacingAndGlyphs" fill="#1a1a1a" stroke="#1a1a1a" stroke-width="0.15">0</text>
<line x1="56.2" y1="642.3" x2="56.2" y2="645" stroke="#151515" stroke-width="1.1" />
<line x1="86.05" y1="642.3" x2="86.05" y2="645" stroke="#151515" stroke-width="1.1" />
<text x="58.4" y="650.6" font-size="6.6" text-anchor="end" textLength="10" lengthAdjust="spacingAndGlyphs" fill="#1a1a1a" stroke="#1a1a1a" stroke-width="0.12" transform="rotate(-45 58.4 650.6)">Pre</text>
<text x="88.35" y="651" font-size="6.6" text-anchor="end" textLength="13.2" lengthAdjust="spacingAndGlyphs" fill="#1a1a1a" stroke="#1a1a1a" stroke-width="0.12" transform="rotate(-45 88.35 651)">Post</text>
<polyline points="56.2,633.4 86.05,603" fill="none" stroke="#5a2a70" stroke-width="1.1" stroke-linejoin="round" />
<circle cx="56.2" cy="633.4" r="2.1" fill="#5a2a70"/>
<circle cx="86.05" cy="603" r="2.1" fill="#5a2a70"/>
<polyline points="56.2,636.6 86.05,562" fill="none" stroke="#3db54e" stroke-width="1.1" stroke-linejoin="round" />
<circle cx="56.2" cy="636.6" r="2.1" fill="#3db54e"/>
<circle cx="86.05" cy="562" r="2.1" fill="#3db54e"/>
<polyline points="56.2,642.8 86.05,631.9" fill="none" stroke="#c4142e" stroke-width="1.1" stroke-linejoin="round" />
<circle cx="56.2" cy="642.8" r="2.1" fill="#c4142e"/>
<circle cx="86.05" cy="631.9" r="2.1" fill="#c4142e"/>
<polyline points="56.2,641 86.05,638" fill="none" stroke="#164f86" stroke-width="1.1" stroke-linejoin="round" />
<circle cx="56.2" cy="641" r="2.1" fill="#164f86"/>
<circle cx="86.05" cy="638" r="2.1" fill="#164f86"/>
<text x="15.2" y="597" font-size="7.8" text-anchor="middle" textLength="75.6" lengthAdjust="spacingAndGlyphs" fill="#1a1a1a" stroke="#1a1a1a" stroke-width="0.28" transform="rotate(-90 15.2 597)">IFNγ producing cells/10⁶ cells</text>
<text x="151" y="542.6" font-size="8.4" textLength="35.4" lengthAdjust="spacingAndGlyphs" fill="#1a1a1a" stroke="#1a1a1a" stroke-width="0.25">MAGE A3</text>
<line x1="138.2" y1="548.1" x2="138.2" y2="642.8" stroke="#151515" stroke-width="1.2" />
<rect x="138.8" y="638.6" width="59.2" height="3.7" fill="#cfcfd3"/>
<line x1="138.8" y1="638.6" x2="198" y2="638.6" stroke="#3a3a3a" stroke-width="1.1" stroke-dasharray="3,2"/>
<line x1="134.9" y1="642.3" x2="198" y2="642.3" stroke="#151515" stroke-width="1.2" />
<line x1="134.9" y1="552.1" x2="138.2" y2="552.1" stroke="#151515" stroke-width="1.1" />
<text x="132.2" y="554.4" font-size="6.6" text-anchor="end" textLength="10.4" lengthAdjust="spacingAndGlyphs" fill="#1a1a1a" stroke="#1a1a1a" stroke-width="0.15">800</text>
<line x1="134.9" y1="574.7" x2="138.2" y2="574.7" stroke="#151515" stroke-width="1.1" />
<text x="132.2" y="577" font-size="6.6" text-anchor="end" textLength="10.4" lengthAdjust="spacingAndGlyphs" fill="#1a1a1a" stroke="#1a1a1a" stroke-width="0.15">600</text>
<line x1="134.9" y1="597.4" x2="138.2" y2="597.4" stroke="#151515" stroke-width="1.1" />
<text x="132.2" y="599.7" font-size="6.6" text-anchor="end" textLength="10.4" lengthAdjust="spacingAndGlyphs" fill="#1a1a1a" stroke="#1a1a1a" stroke-width="0.15">400</text>
<line x1="134.9" y1="619.8" x2="138.2" y2="619.8" stroke="#151515" stroke-width="1.1" />
<text x="132.2" y="622.1" font-size="6.6" text-anchor="end" textLength="10.4" lengthAdjust="spacingAndGlyphs" fill="#1a1a1a" stroke="#1a1a1a" stroke-width="0.15">200</text>
<line x1="134.9" y1="642.3" x2="138.2" y2="642.3" stroke="#151515" stroke-width="1.1" />
<text x="132.2" y="644.6" font-size="6.6" text-anchor="end" textLength="3.6" lengthAdjust="spacingAndGlyphs" fill="#1a1a1a" stroke="#1a1a1a" stroke-width="0.15">0</text>
<line x1="153.2" y1="642.3" x2="153.2" y2="645" stroke="#151515" stroke-width="1.1" />
<line x1="183.3" y1="642.3" x2="183.3" y2="645" stroke="#151515" stroke-width="1.1" />
<text x="155.4" y="650.6" font-size="6.6" text-anchor="end" textLength="10" lengthAdjust="spacingAndGlyphs" fill="#1a1a1a" stroke="#1a1a1a" stroke-width="0.12" transform="rotate(-45 155.4 650.6)">Pre</text>
<text x="185.6" y="651" font-size="6.6" text-anchor="end" textLength="13.2" lengthAdjust="spacingAndGlyphs" fill="#1a1a1a" stroke="#1a1a1a" stroke-width="0.12" transform="rotate(-45 185.6 651)">Post</text>
<polyline points="153.2,624.9 183.3,591.2" fill="none" stroke="#5a2a70" stroke-width="1.1" stroke-linejoin="round" />
<circle cx="153.2" cy="624.9" r="2.1" fill="#5a2a70"/>
<circle cx="183.3" cy="591.2" r="2.1" fill="#5a2a70"/>
<polyline points="153.2,626.5 183.3,619.1" fill="none" stroke="#3db54e" stroke-width="1.1" stroke-linejoin="round" />
<circle cx="153.2" cy="626.5" r="2.1" fill="#3db54e"/>
<circle cx="183.3" cy="619.1" r="2.1" fill="#3db54e"/>
<polyline points="153.2,642 183.3,642" fill="none" stroke="#c4142e" stroke-width="1.1" stroke-linejoin="round" />
<circle cx="153.2" cy="642" r="2.1" fill="#c4142e"/>
<circle cx="183.3" cy="642" r="2.1" fill="#c4142e"/>
<polyline points="153.2,582.1 183.3,575.8" fill="none" stroke="#164f86" stroke-width="1.1" stroke-linejoin="round" />
<circle cx="153.2" cy="582.1" r="2.1" fill="#164f86"/>
<circle cx="183.3" cy="575.8" r="2.1" fill="#164f86"/>
<text x="115.9" y="597" font-size="7.8" text-anchor="middle" textLength="75.6" lengthAdjust="spacingAndGlyphs" fill="#1a1a1a" stroke="#1a1a1a" stroke-width="0.28" transform="rotate(-90 115.9 597)">IFNγ producing cells/10⁶ cells</text>
<text x="248.9" y="542.6" font-size="8.4" textLength="35" lengthAdjust="spacingAndGlyphs" fill="#1a1a1a" stroke="#1a1a1a" stroke-width="0.25">MAGE A1</text>
<line x1="236.7" y1="548.1" x2="236.7" y2="642.8" stroke="#151515" stroke-width="1.2" />
<rect x="237.3" y="640.3" width="59.3" height="2" fill="#cfcfd3"/>
<line x1="237.3" y1="640.3" x2="296.6" y2="640.3" stroke="#3a3a3a" stroke-width="1.1" stroke-dasharray="3,2"/>
<line x1="233.4" y1="642.3" x2="296.6" y2="642.3" stroke="#151515" stroke-width="1.2" />
<line x1="233.4" y1="552.1" x2="236.7" y2="552.1" stroke="#151515" stroke-width="1.1" />
<text x="230.7" y="554.4" font-size="6.6" text-anchor="end" textLength="10.4" lengthAdjust="spacingAndGlyphs" fill="#1a1a1a" stroke="#1a1a1a" stroke-width="0.15">400</text>
<line x1="233.4" y1="574.7" x2="236.7" y2="574.7" stroke="#151515" stroke-width="1.1" />
<text x="230.7" y="577" font-size="6.6" text-anchor="end" textLength="10.4" lengthAdjust="spacingAndGlyphs" fill="#1a1a1a" stroke="#1a1a1a" stroke-width="0.15">300</text>
<line x1="233.4" y1="597.4" x2="236.7" y2="597.4" stroke="#151515" stroke-width="1.1" />
<text x="230.7" y="599.7" font-size="6.6" text-anchor="end" textLength="10.4" lengthAdjust="spacingAndGlyphs" fill="#1a1a1a" stroke="#1a1a1a" stroke-width="0.15">200</text>
<line x1="233.4" y1="619.8" x2="236.7" y2="619.8" stroke="#151515" stroke-width="1.1" />
<text x="230.7" y="622.1" font-size="6.6" text-anchor="end" textLength="10.4" lengthAdjust="spacingAndGlyphs" fill="#1a1a1a" stroke="#1a1a1a" stroke-width="0.15">100</text>
<line x1="233.4" y1="642.3" x2="236.7" y2="642.3" stroke="#151515" stroke-width="1.1" />
<text x="230.7" y="644.6" font-size="6.6" text-anchor="end" textLength="3.6" lengthAdjust="spacingAndGlyphs" fill="#1a1a1a" stroke="#1a1a1a" stroke-width="0.15">0</text>
<line x1="251.5" y1="642.3" x2="251.5" y2="645" stroke="#151515" stroke-width="1.1" />
<line x1="281.6" y1="642.3" x2="281.6" y2="645" stroke="#151515" stroke-width="1.1" />
<text x="253.7" y="650.6" font-size="6.6" text-anchor="end" textLength="10" lengthAdjust="spacingAndGlyphs" fill="#1a1a1a" stroke="#1a1a1a" stroke-width="0.12" transform="rotate(-45 253.7 650.6)">Pre</text>
<text x="283.9" y="651" font-size="6.6" text-anchor="end" textLength="13.2" lengthAdjust="spacingAndGlyphs" fill="#1a1a1a" stroke="#1a1a1a" stroke-width="0.12" transform="rotate(-45 283.9 651)">Post</text>
<polyline points="251.5,642 281.6,629.7" fill="none" stroke="#5a2a70" stroke-width="1.1" stroke-linejoin="round" />
<circle cx="251.5" cy="642" r="2.1" fill="#5a2a70"/>
<circle cx="281.6" cy="629.7" r="2.1" fill="#5a2a70"/>
<polyline points="251.5,642 281.6,642" fill="none" stroke="#3db54e" stroke-width="1.1" stroke-linejoin="round" />
<circle cx="251.5" cy="642" r="2.1" fill="#3db54e"/>
<circle cx="281.6" cy="642" r="2.1" fill="#3db54e"/>
<polyline points="251.5,642 281.6,595.4" fill="none" stroke="#c4142e" stroke-width="1.1" stroke-linejoin="round" />
<circle cx="251.5" cy="642" r="2.1" fill="#c4142e"/>
<circle cx="281.6" cy="595.4" r="2.1" fill="#c4142e"/>
<polyline points="251.5,568.4 281.6,578.5" fill="none" stroke="#164f86" stroke-width="1.1" stroke-linejoin="round" />
<circle cx="251.5" cy="568.4" r="2.1" fill="#164f86"/>
<circle cx="281.6" cy="578.5" r="2.1" fill="#164f86"/>
<text x="213.6" y="597" font-size="7.8" text-anchor="middle" textLength="75.6" lengthAdjust="spacingAndGlyphs" fill="#1a1a1a" stroke="#1a1a1a" stroke-width="0.28" transform="rotate(-90 213.6 597)">IFNγ producing cells/10⁶ cells</text>
<text x="349.9" y="542.6" font-size="8.4" textLength="35.5" lengthAdjust="spacingAndGlyphs" fill="#1a1a1a" stroke="#1a1a1a" stroke-width="0.25">MAGE C1</text>
<line x1="338.2" y1="548.1" x2="338.2" y2="570.2" stroke="#151515" stroke-width="1.2" />
<line x1="338.2" y1="574.6" x2="338.2" y2="642.8" stroke="#151515" stroke-width="1.2" />
<line x1="335.2" y1="570.2" x2="341.4" y2="570.2" stroke="#151515" stroke-width="1.1" />
<line x1="335.2" y1="574.6" x2="341.4" y2="574.6" stroke="#151515" stroke-width="1.1" />
<rect x="338.8" y="640.7" width="59.2" height="1.6" fill="#cfcfd3"/>
<line x1="338.8" y1="640.7" x2="398" y2="640.7" stroke="#3a3a3a" stroke-width="1.1" stroke-dasharray="3,2"/>
<line x1="334.9" y1="642.3" x2="398" y2="642.3" stroke="#151515" stroke-width="1.2" />
<line x1="334.9" y1="552.1" x2="338.2" y2="552.1" stroke="#151515" stroke-width="1.1" />
<text x="332.2" y="554.4" font-size="6.6" text-anchor="end" textLength="13.6" lengthAdjust="spacingAndGlyphs" fill="#1a1a1a" stroke="#1a1a1a" stroke-width="0.15">6000</text>
<line x1="334.9" y1="557.8" x2="338.2" y2="557.8" stroke="#151515" stroke-width="1.1" />
<text x="332.2" y="560.1" font-size="6.6" text-anchor="end" textLength="13.6" lengthAdjust="spacingAndGlyphs" fill="#1a1a1a" stroke="#1a1a1a" stroke-width="0.15">5000</text>
<line x1="334.9" y1="563.7" x2="338.2" y2="563.7" stroke="#151515" stroke-width="1.1" />
<text x="332.2" y="566" font-size="6.6" text-anchor="end" textLength="13.6" lengthAdjust="spacingAndGlyphs" fill="#1a1a1a" stroke="#1a1a1a" stroke-width="0.15">4000</text>
<line x1="334.9" y1="569.9" x2="338.2" y2="569.9" stroke="#151515" stroke-width="1.1" />
<text x="332.2" y="572.2" font-size="6.6" text-anchor="end" textLength="13.6" lengthAdjust="spacingAndGlyphs" fill="#1a1a1a" stroke="#1a1a1a" stroke-width="0.15">3000</text>
<line x1="334.9" y1="575.8" x2="338.2" y2="575.8" stroke="#151515" stroke-width="1.1" />
<text x="332.2" y="578.1" font-size="6.6" text-anchor="end" textLength="13.6" lengthAdjust="spacingAndGlyphs" fill="#1a1a1a" stroke="#1a1a1a" stroke-width="0.15">1500</text>
<line x1="334.9" y1="597.6" x2="338.2" y2="597.6" stroke="#151515" stroke-width="1.1" />
<text x="332.2" y="599.9" font-size="6.6" text-anchor="end" textLength="13.6" lengthAdjust="spacingAndGlyphs" fill="#1a1a1a" stroke="#1a1a1a" stroke-width="0.15">1000</text>
<line x1="334.9" y1="619.8" x2="338.2" y2="619.8" stroke="#151515" stroke-width="1.1" />
<text x="332.2" y="622.1" font-size="6.6" text-anchor="end" textLength="10.4" lengthAdjust="spacingAndGlyphs" fill="#1a1a1a" stroke="#1a1a1a" stroke-width="0.15">500</text>
<line x1="334.9" y1="642.3" x2="338.2" y2="642.3" stroke="#151515" stroke-width="1.1" />
<text x="332.2" y="644.6" font-size="6.6" text-anchor="end" textLength="3.6" lengthAdjust="spacingAndGlyphs" fill="#1a1a1a" stroke="#1a1a1a" stroke-width="0.15">0</text>
<line x1="353" y1="642.3" x2="353" y2="645" stroke="#151515" stroke-width="1.1" />
<line x1="382.9" y1="642.3" x2="382.9" y2="645" stroke="#151515" stroke-width="1.1" />
<text x="355.2" y="650.6" font-size="6.6" text-anchor="end" textLength="10" lengthAdjust="spacingAndGlyphs" fill="#1a1a1a" stroke="#1a1a1a" stroke-width="0.12" transform="rotate(-45 355.2 650.6)">Pre</text>
<text x="385.2" y="651" font-size="6.6" text-anchor="end" textLength="13.2" lengthAdjust="spacingAndGlyphs" fill="#1a1a1a" stroke="#1a1a1a" stroke-width="0.12" transform="rotate(-45 385.2 651)">Post</text>
<polyline points="353,640.9 382.9,640.9" fill="none" stroke="#5a2a70" stroke-width="1.1" stroke-linejoin="round" />
<circle cx="353" cy="640.9" r="2.1" fill="#5a2a70"/>
<circle cx="382.9" cy="640.9" r="2.1" fill="#5a2a70"/>
<polyline points="353,602.2 382.9,583.8" fill="none" stroke="#3db54e" stroke-width="1.1" stroke-linejoin="round" />
<circle cx="353" cy="602.2" r="2.1" fill="#3db54e"/>
<circle cx="382.9" cy="583.8" r="2.1" fill="#3db54e"/>
<polyline points="353,642 382.9,633.5" fill="none" stroke="#c4142e" stroke-width="1.1" stroke-linejoin="round" />
<circle cx="353" cy="642" r="2.1" fill="#c4142e"/>
<circle cx="382.9" cy="633.5" r="2.1" fill="#c4142e"/>
<polyline points="353,558.4 382.9,558.4" fill="none" stroke="#164f86" stroke-width="1.1" stroke-linejoin="round" />
<circle cx="353" cy="558.4" r="2.1" fill="#164f86"/>
<circle cx="382.9" cy="558.4" r="2.1" fill="#164f86"/>
<text x="313.6" y="597" font-size="7.8" text-anchor="middle" textLength="75.6" lengthAdjust="spacingAndGlyphs" fill="#1a1a1a" stroke="#1a1a1a" stroke-width="0.28" transform="rotate(-90 313.6 597)">IFNγ producing cells/10⁶ cells</text>
<text x="461.4" y="542.6" font-size="8.4" textLength="16.6" lengthAdjust="spacingAndGlyphs" fill="#1a1a1a" stroke="#1a1a1a" stroke-width="0.25">CEF</text>
<line x1="439.3" y1="548.1" x2="439.3" y2="642.8" stroke="#151515" stroke-width="1.2" />
<line x1="436" y1="642.3" x2="499.6" y2="642.3" stroke="#151515" stroke-width="1.2" />
<line x1="436" y1="552.2" x2="439.3" y2="552.2" stroke="#151515" stroke-width="1.1" />
<text x="433.3" y="554.5" font-size="6.6" text-anchor="end" textLength="13.6" lengthAdjust="spacingAndGlyphs" fill="#1a1a1a" stroke="#1a1a1a" stroke-width="0.15">6000</text>
<line x1="436" y1="582.5" x2="439.3" y2="582.5" stroke="#151515" stroke-width="1.1" />
<text x="433.3" y="584.8" font-size="6.6" text-anchor="end" textLength="13.6" lengthAdjust="spacingAndGlyphs" fill="#1a1a1a" stroke="#1a1a1a" stroke-width="0.15">4000</text>
<line x1="436" y1="612.4" x2="439.3" y2="612.4" stroke="#151515" stroke-width="1.1" />
<text x="433.3" y="614.7" font-size="6.6" text-anchor="end" textLength="13.6" lengthAdjust="spacingAndGlyphs" fill="#1a1a1a" stroke="#1a1a1a" stroke-width="0.15">2000</text>
<line x1="436" y1="642.3" x2="439.3" y2="642.3" stroke="#151515" stroke-width="1.1" />
<text x="433.3" y="644.6" font-size="6.6" text-anchor="end" textLength="3.6" lengthAdjust="spacingAndGlyphs" fill="#1a1a1a" stroke="#1a1a1a" stroke-width="0.15">0</text>
<line x1="454.3" y1="642.3" x2="454.3" y2="645" stroke="#151515" stroke-width="1.1" />
<line x1="484.2" y1="642.3" x2="484.2" y2="645" stroke="#151515" stroke-width="1.1" />
<text x="456.5" y="650.6" font-size="6.6" text-anchor="end" textLength="10" lengthAdjust="spacingAndGlyphs" fill="#1a1a1a" stroke="#1a1a1a" stroke-width="0.12" transform="rotate(-45 456.5 650.6)">Pre</text>
<text x="486.5" y="651" font-size="6.6" text-anchor="end" textLength="13.2" lengthAdjust="spacingAndGlyphs" fill="#1a1a1a" stroke="#1a1a1a" stroke-width="0.12" transform="rotate(-45 486.5 651)">Post</text>
<polyline points="454.3,634.5 484.2,626.7" fill="none" stroke="#5a2a70" stroke-width="1.1" stroke-linejoin="round" />
<circle cx="454.3" cy="634.5" r="2.1" fill="#5a2a70"/>
<circle cx="484.2" cy="626.7" r="2.1" fill="#5a2a70"/>
<polyline points="454.3,628.3 484.2,581.8" fill="none" stroke="#3db54e" stroke-width="1.1" stroke-linejoin="round" />
<circle cx="454.3" cy="628.3" r="2.1" fill="#3db54e"/>
<circle cx="484.2" cy="581.8" r="2.1" fill="#3db54e"/>
<polyline points="454.3,606.8 484.2,626.7" fill="none" stroke="#c4142e" stroke-width="1.1" stroke-linejoin="round" />
<circle cx="454.3" cy="606.8" r="2.1" fill="#c4142e"/>
<circle cx="484.2" cy="626.7" r="2.1" fill="#c4142e"/>
<polyline points="454.3,568.6 484.2,568.6" fill="none" stroke="#164f86" stroke-width="1.1" stroke-linejoin="round" />
<circle cx="454.3" cy="568.6" r="2.1" fill="#164f86"/>
<circle cx="484.2" cy="568.6" r="2.1" fill="#164f86"/>
<text x="413.2" y="597" font-size="7.8" text-anchor="middle" textLength="75.6" lengthAdjust="spacingAndGlyphs" fill="#1a1a1a" stroke="#1a1a1a" stroke-width="0.28" transform="rotate(-90 413.2 597)">IFNγ producing cells/10⁶ cells</text>
<line x1="490.1" y1="584" x2="500.1" y2="584" stroke="#164f86" stroke-width="1.2" />
<circle cx="495" cy="584" r="2.35" fill="#164f86"/>
<text x="501.8" y="586.4" font-size="6.8" textLength="12.4" lengthAdjust="spacingAndGlyphs" fill="#1a1a1a" stroke="#1a1a1a" stroke-width="0.1">2A.1</text>
<line x1="490.1" y1="592.95" x2="500.1" y2="592.95" stroke="#c4142e" stroke-width="1.2" />
<circle cx="495" cy="592.95" r="2.35" fill="#c4142e"/>
<text x="501.8" y="595.35" font-size="6.8" textLength="12.4" lengthAdjust="spacingAndGlyphs" fill="#1a1a1a" stroke="#1a1a1a" stroke-width="0.1">4A.1</text>
<line x1="490.1" y1="601.9" x2="500.1" y2="601.9" stroke="#3db54e" stroke-width="1.2" />
<circle cx="495" cy="601.9" r="2.35" fill="#3db54e"/>
<text x="501.8" y="604.3" font-size="6.8" textLength="12.4" lengthAdjust="spacingAndGlyphs" fill="#1a1a1a" stroke="#1a1a1a" stroke-width="0.1">4A.3</text>
<line x1="490.1" y1="610.85" x2="500.1" y2="610.85" stroke="#5a2a70" stroke-width="1.2" />
<circle cx="495" cy="610.85" r="2.35" fill="#5a2a70"/>
<text x="501.8" y="613.25" font-size="6.8" textLength="12.4" lengthAdjust="spacingAndGlyphs" fill="#1a1a1a" stroke="#1a1a1a" stroke-width="0.1">4A.4</text>
<rect x="0" y="0" width="520" height="1" fill="#000"/>
<rect x="0" y="0" width="1" height="666" fill="#000"/>
<rect x="518.7" y="0" width="1.3" height="666" fill="#000"/>
<rect x="0" y="664.7" width="520" height="1.3" fill="#000"/>
</svg>
</body></html>
